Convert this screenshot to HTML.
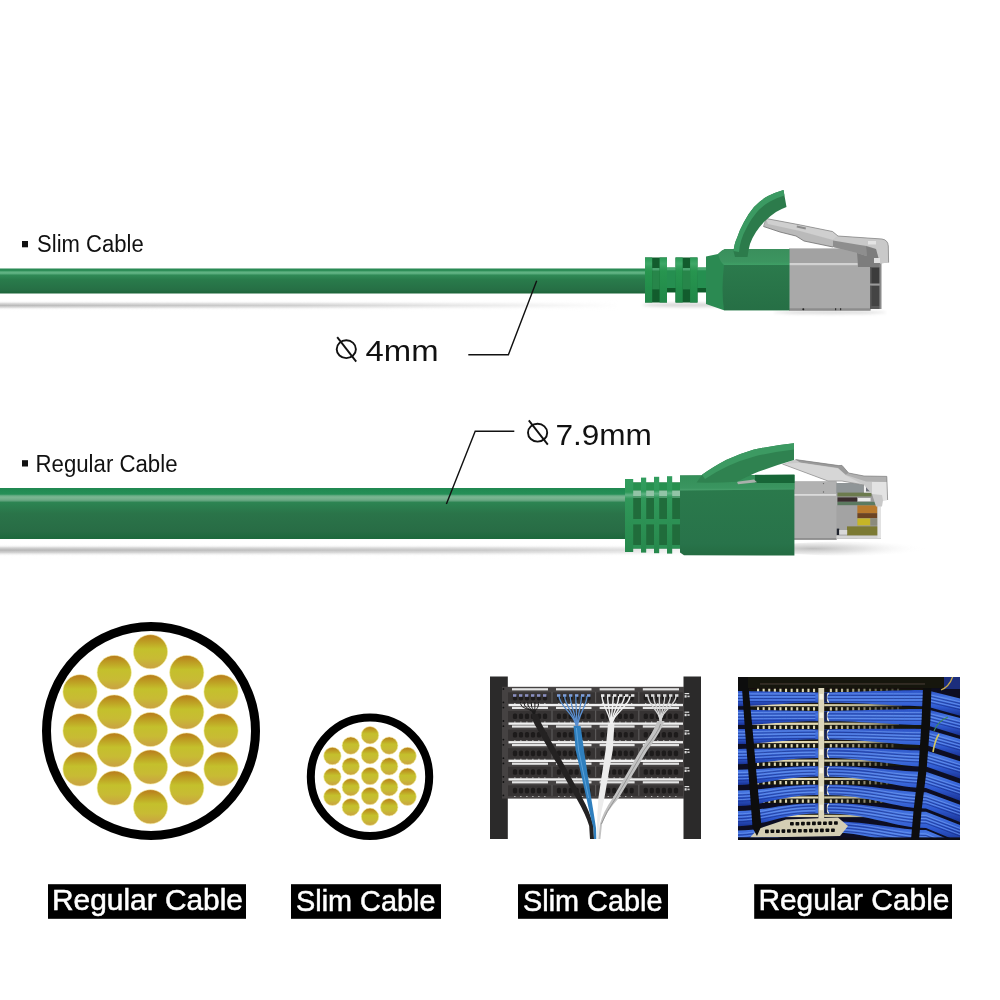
<!DOCTYPE html>
<html lang="en">
<head>
<meta charset="utf-8">
<title>Slim Cable vs Regular Cable</title>
<style>
html,body{margin:0;padding:0;background:#fff;}
body{width:1000px;height:1000px;position:relative;overflow:hidden;font-family:"Liberation Sans",sans-serif;}
svg{position:absolute;left:0;top:0;display:block;}
</style>
</head>
<body>
<svg width="1000" height="1000" viewBox="0 0 1000 1000" style="will-change:transform">
<defs>
<linearGradient id="gcs" x1="0" y1="0" x2="0" y2="1">
<stop offset="0" stop-color="#268650"/>
<stop offset="0.09" stop-color="#2f8f59"/>
<stop offset="0.14" stop-color="#62b585"/>
<stop offset="0.2" stop-color="#5aae7e"/>
<stop offset="0.27" stop-color="#2f8a56"/>
<stop offset="0.45" stop-color="#297b4b"/>
<stop offset="0.85" stop-color="#266f45"/>
<stop offset="1" stop-color="#1c6438"/>
</linearGradient>
<linearGradient id="gcr" x1="0" y1="0" x2="0" y2="1">
<stop offset="0" stop-color="#1f8850"/>
<stop offset="0.12" stop-color="#259058"/>
<stop offset="0.155" stop-color="#6fb08a"/>
<stop offset="0.19" stop-color="#7ab692"/>
<stop offset="0.24" stop-color="#6aa884"/>
<stop offset="0.285" stop-color="#2c8452"/>
<stop offset="0.5" stop-color="#2a7449"/>
<stop offset="0.85" stop-color="#286c45"/>
<stop offset="1" stop-color="#1d683c"/>
</linearGradient>
<linearGradient id="gs" x1="0" y1="0" x2="0" y2="1">
<stop offset="0" stop-color="#b97a1c"/>
<stop offset="0.18" stop-color="#bd9a22"/>
<stop offset="0.42" stop-color="#c4c02c"/>
<stop offset="0.7" stop-color="#c8bb34"/>
<stop offset="1" stop-color="#caa044"/>
</linearGradient>
<linearGradient id="gsh" x1="0" y1="0" x2="0" y2="1">
<stop offset="0" stop-color="#fff" stop-opacity="0"/>
<stop offset="0.3" stop-color="#cfcfcf" stop-opacity="0.8"/>
<stop offset="0.5" stop-color="#b8b8b8"/>
<stop offset="0.7" stop-color="#cfcfcf" stop-opacity="0.8"/>
<stop offset="1" stop-color="#fff" stop-opacity="0"/>
</linearGradient>
<linearGradient id="gblue" x1="0" y1="0" x2="0" y2="1">
<stop offset="0" stop-color="#2a50c4"/>
<stop offset="0.3" stop-color="#4676e2"/>
<stop offset="0.65" stop-color="#2f5ad0"/>
<stop offset="1" stop-color="#1a3294"/>
</linearGradient>
<linearGradient id="gcs2" x1="0" y1="0" x2="0" y2="1">
<stop offset="0" stop-color="#2a8752"/>
<stop offset="0.14" stop-color="#4aa772"/>
<stop offset="0.3" stop-color="#2f8c55"/>
<stop offset="0.8" stop-color="#26804a"/>
<stop offset="1" stop-color="#1a6a38"/>
</linearGradient>
<linearGradient id="grib" x1="0" y1="0" x2="0" y2="1">
<stop offset="0" stop-color="#2a9a56"/>
<stop offset="0.14" stop-color="#3fa868"/>
<stop offset="0.3" stop-color="#27954f"/>
<stop offset="1" stop-color="#208848"/>
</linearGradient>
<linearGradient id="gbodyS" x1="0" y1="0" x2="0" y2="1">
<stop offset="0" stop-color="#2b7a4c"/>
<stop offset="1" stop-color="#266f45"/>
</linearGradient>
<linearGradient id="gtopS" x1="0" y1="0" x2="0" y2="1">
<stop offset="0" stop-color="#3a8f5c"/>
<stop offset="0.8" stop-color="#3c9560"/>
<stop offset="1" stop-color="#3fa066"/>
</linearGradient>
<linearGradient id="gribR" x1="0" y1="0" x2="0" y2="1">
<stop offset="0" stop-color="#329d5e"/>
<stop offset="0.18" stop-color="#2f9a5a"/>
<stop offset="0.22" stop-color="#5fb384"/>
<stop offset="0.27" stop-color="#30985a"/>
<stop offset="1" stop-color="#26884c"/>
</linearGradient>
<linearGradient id="gbodyR" x1="0" y1="0" x2="0" y2="1">
<stop offset="0" stop-color="#2b7b4c"/>
<stop offset="0.85" stop-color="#28734a"/>
<stop offset="1" stop-color="#246c42"/>
</linearGradient>
<linearGradient id="gtopR" x1="0" y1="0" x2="0" y2="1">
<stop offset="0" stop-color="#348f58"/>
<stop offset="0.85" stop-color="#3a9560"/>
<stop offset="1" stop-color="#4aa26e"/>
</linearGradient>
<radialGradient id="gshR" cx="0.3" cy="0.5" r="0.7">
<stop offset="0" stop-color="#a8a8a8" stop-opacity="0.75"/>
<stop offset="0.45" stop-color="#c4c4c4" stop-opacity="0.45"/>
<stop offset="1" stop-color="#fff" stop-opacity="0"/>
</radialGradient>
<linearGradient id="gsh2" x1="0" y1="0" x2="0" y2="1">
<stop offset="0" stop-color="#fff" stop-opacity="0"/>
<stop offset="0.28" stop-color="#c8c8c8" stop-opacity="0.8"/>
<stop offset="0.48" stop-color="#b4b4b4"/>
<stop offset="0.7" stop-color="#cacaca" stop-opacity="0.8"/>
<stop offset="1" stop-color="#fff" stop-opacity="0"/>
</linearGradient>
<linearGradient id="gfadeS" x1="0" y1="0" x2="1" y2="0">
<stop offset="0" stop-color="#fff" stop-opacity="0"/>
<stop offset="0.45" stop-color="#fff" stop-opacity="0.3"/>
<stop offset="0.95" stop-color="#fff" stop-opacity="1"/>
</linearGradient>
<linearGradient id="gfadeR" x1="0" y1="0" x2="1" y2="0">
<stop offset="0" stop-color="#fff" stop-opacity="0"/>
<stop offset="0.7" stop-color="#fff" stop-opacity="0.25"/>
<stop offset="0.9" stop-color="#fff" stop-opacity="0.55"/>
<stop offset="1" stop-color="#fff" stop-opacity="0.9"/>
</linearGradient>
<linearGradient id="gstripR" x1="0" y1="0" x2="1" y2="0">
<stop offset="0" stop-color="#d6cfa6"/>
<stop offset="0.55" stop-color="#b9b28c"/>
<stop offset="1" stop-color="#4c4a3a"/>
</linearGradient>
<filter id="fblur" x="-5%" y="-5%" width="110%" height="110%"><feGaussianBlur stdDeviation="0.45"/></filter>
<filter id="fblur2" x="-20%" y="-300%" width="140%" height="700%"><feGaussianBlur stdDeviation="1.6"/></filter>
</defs>

<!-- ============ SLIM CABLE ============ -->
<g id="slim">
<rect x="0" y="300.6" width="650" height="9.6" fill="url(#gsh)"/>
<rect x="0" y="299" width="651" height="13" fill="url(#gfadeS)"/>
<rect x="0" y="268.5" width="646" height="25" fill="url(#gcs)"/>
<!-- cable into boot -->
<rect x="645" y="268" width="62" height="24.5" fill="url(#gcs2)"/>
<ellipse cx="690" cy="305" rx="48" ry="2.2" fill="#9c9c9c" opacity="0.4" filter="url(#fblur2)"/>
<ellipse cx="830" cy="312.4" rx="56" ry="1.8" fill="#9c9c9c" opacity="0.35" filter="url(#fblur2)"/>
<!-- ribs -->
<g>
<rect x="645" y="257.5" width="22" height="45" fill="#125c2d"/>
<rect x="652.2" y="270.4" width="7.4" height="19" fill="#27864a"/>
<rect x="652.2" y="268" width="7.4" height="2.6" fill="#4aa670"/>
<rect x="645" y="257.5" width="7.2" height="45" fill="url(#grib)"/>
<rect x="659.6" y="257.5" width="7.4" height="45" fill="url(#grib)"/>
<rect x="675.5" y="257.5" width="22" height="45" fill="#125c2d"/>
<rect x="682.7" y="270.4" width="7.4" height="19" fill="#27864a"/>
<rect x="682.7" y="268" width="7.4" height="2.6" fill="#4aa670"/>
<rect x="675.5" y="257.5" width="7.2" height="45" fill="url(#grib)"/>
<rect x="690.1" y="257.5" width="7.4" height="45" fill="url(#grib)"/>
<rect x="667" y="267.5" width="8.5" height="24.5" fill="#258f50"/>
<rect x="667" y="267.5" width="8.5" height="2.8" fill="#4aa870"/>
<rect x="667" y="288" width="8.5" height="4" fill="#0f5a2a"/>
<rect x="697.5" y="267.5" width="8.5" height="24.5" fill="#258f50"/>
<rect x="697.5" y="267.5" width="8.5" height="2.8" fill="#4aa870"/>
<rect x="697.5" y="288" width="8.5" height="4" fill="#0f5a2a"/>
</g>
<!-- gray metal shell -->
<rect x="789" y="248.6" width="81.5" height="62" fill="#a9a9a9"/>
<rect x="789" y="248.6" width="81.5" height="14.6" fill="#a2a2a2"/>
<rect x="789" y="263" width="81.5" height="2.2" fill="#d2d2d2"/>
<rect x="789" y="308.3" width="81.5" height="2.3" fill="#8c8c8c"/>
<circle cx="803.3" cy="309.3" r="1" fill="#222"/>
<rect x="835" y="308.2" width="1.2" height="2" fill="#333"/>
<rect x="840" y="308.2" width="1.2" height="2" fill="#333"/>
<!-- contacts -->
<rect x="870" y="262" width="11" height="47" fill="#5a5a5a"/>
<rect x="871.5" y="268" width="8" height="16" fill="#3c3c3c"/>
<rect x="871.5" y="286" width="8" height="20" fill="#444"/>
<rect x="870" y="283.5" width="11" height="2" fill="#9a9a9a"/>
<rect x="879.5" y="262" width="2" height="47" fill="#8a8a8a"/>
<!-- clear latch -->
<path d="M763.5,226.5 L766,218.5 L798,224.5 L832.5,231.5 L838,236 L882,239 Q888,240 888.3,246 L888.6,262.5 L880,263.5 L879.5,267 L858,267 L857,253 L833,247 L804,241 L796,236 L780,232 Z" fill="#b4b4b4" opacity="0.92"/>
<path d="M766,218.5 L798,224.5 L832.5,231.5 L838,236 L833,240 L800,231 L768,224 Z" fill="#cfcfcf"/>
<path d="M833,240 L838,236 L882,239 Q888,240 888.3,246 L888.6,262.5 L880,263.5 L876,249 L866,245.5 L834,247 Z" fill="#c9c9c9"/>
<path d="M833,240.5 L866,246 L866.5,256 L857,253 L833,247 Z" fill="#8e8e8e"/>
<path d="M866,246 L876,249 L880,263.5 L879.5,267 L858,267 L857,253 L866.5,256 Z" fill="#7d7d7d"/>
<rect x="868" y="241" width="8" height="3.5" fill="#e4e4e4"/>
<path d="M766,218.5 L798,224.5 L832.5,231.5 L838,236 L882,239 Q888,240 888.3,246 L888.6,262.5" fill="none" stroke="#7e7e7e" stroke-width="0.7"/>
<path d="M763.5,226.5 L780,232 L796,236 L804,241 L833,247" fill="none" stroke="#6f6f6f" stroke-width="0.8"/>
<path d="M763.5,226.5 L766,218.5" fill="none" stroke="#8a8a8a" stroke-width="0.7"/>
<path d="M797,225.6 l9,1.9 l-0.4,2 l-9,-1.9 Z" fill="#8c8c8c"/>
<rect x="874" y="258" width="6" height="5" fill="#e0e0e0"/>
<!-- body -->
<path d="M706,256.5 L718,254 Q722,250 725,249 L789.3,249 L789.3,310.3 L724,310.3 L706,304 Z" fill="#2b8a52"/>
<path d="M724,265 L789.3,265 L789.3,310.3 L724,310.3 Q721,290 724,265 Z" fill="url(#gbodyS)"/>
<path d="M725,249 L789.3,249 L789.3,265 L724,265 Q720,262 718,254 Q722,250 725,249 Z" fill="url(#gtopS)"/>
<!-- green latch -->
<path d="M733.5,251 Q734.5,243 737,238 Q740,229 744,222 Q748,214 754,207 Q760,200.5 768,196 Q775,192.5 783.5,190 L786.5,207 Q781,209 776,212 Q770,216 765,221 Q760,226 756,232 Q752,238 750,244 Q748.5,249 747.5,257 L735,257 Z" fill="#2c7b4b"/>
<path d="M733.5,251 Q734.5,243 737,238 Q740,229 744,222 Q748,214 754,207 Q760,200.5 768,196 Q775,192.5 783.5,190 L784.4,195.5 Q776,198 770,201.5 Q762,206 757,212 Q751,219 747.5,226 Q743,234 741,241 Q739.5,246 739,252 Z" fill="#3b9a62"/>
</g>

<!-- ============ REGULAR CABLE ============ -->
<g id="regular">
<rect x="0" y="544.4" width="690" height="12" fill="url(#gsh2)"/>
<rect x="0" y="543" width="691" height="16" fill="url(#gfadeR)"/>
<rect x="0" y="488" width="630" height="51" fill="url(#gcr)"/>
<!-- shadow under plug -->
<ellipse cx="845" cy="548.6" rx="80" ry="7" fill="url(#gshR)"/>
<!-- boot -->
<rect x="625" y="482.5" width="56" height="66" fill="#206c3b"/>
<rect x="625" y="482.5" width="56" height="8" fill="#27904f"/>
<rect x="625" y="490.5" width="56" height="5.5" fill="#92c4a6"/>
<rect x="625" y="496" width="56" height="2" fill="#4e9a6c"/>
<rect x="625" y="519" width="56" height="5.4" fill="#2c9154"/>
<rect x="625" y="545" width="56" height="3.5" fill="#2c9154"/>
<rect x="625" y="479" width="8.2" height="73" fill="url(#gribR)"/>
<rect x="641" y="477.6" width="5.2" height="75" fill="url(#gribR)"/>
<rect x="654" y="476.8" width="5.2" height="76.4" fill="url(#gribR)"/>
<rect x="667" y="476.2" width="5.2" height="77.4" fill="url(#gribR)"/>
<!-- gray metal shell -->
<rect x="794" y="481.4" width="42.6" height="58.4" fill="#adadad"/>
<rect x="794" y="481.4" width="42.6" height="12.6" fill="#b1b1b1"/>
<rect x="794" y="494" width="42.6" height="1.8" fill="#dadada"/>
<rect x="794" y="538" width="42.6" height="1.8" fill="#8f8f8f"/>
<circle cx="823.5" cy="483.6" r="0.7" fill="#666"/>
<circle cx="823.5" cy="492" r="0.7" fill="#666"/>
<!-- contacts block -->
<rect x="836.4" y="483" width="44.6" height="55.6" fill="#9c9c9c"/>
<rect x="836.4" y="483" width="27" height="10" fill="#8f9597"/>
<rect x="837.5" y="492.6" width="34" height="3.8" fill="#6c7b4e"/>
<rect x="837.5" y="497.4" width="19.5" height="4.4" fill="#3a2c2e"/>
<rect x="858" y="498" width="12.6" height="3.4" fill="#ececec"/>
<rect x="837.5" y="501.8" width="44.5" height="3.6" fill="#5c7a60"/>
<rect x="836.4" y="505.4" width="21" height="33" fill="#a3a3a3"/>
<rect x="857.4" y="505.4" width="20" height="8" fill="#b97a2c"/>
<rect x="857.4" y="513.2" width="20" height="5" fill="#6d4423"/>
<rect x="857.4" y="518.4" width="13" height="7" fill="#c7b626"/>
<rect x="870.4" y="518.4" width="9.6" height="7" fill="#8b8b7c"/>
<rect x="847" y="526.4" width="33" height="9.2" fill="#7c7a33"/>
<rect x="836.8" y="528.6" width="2.4" height="6.4" fill="#20242e"/>
<rect x="839.2" y="530" width="8" height="4.6" fill="#d9d9d9"/>
<rect x="836.4" y="535.6" width="44.6" height="3" fill="#d4d4d4"/>
<rect x="877.4" y="502" width="3.6" height="36" fill="#e2e2e2"/>
<rect x="864" y="484" width="8" height="8.6" fill="#f0f0f0"/>
<rect x="866" y="485.5" width="5" height="6" fill="#6d6f78"/>
<!-- clear latch -->
<path d="M782.4,464 L795.6,459.6 L838.8,465.6 L842,465.4 L848.6,473 L864,476 L886.8,476.4 L887.6,500 L883,500.4 L882,506.5 L876,506.5 L872,494 L864,485 L842,481 L828,481 Z" fill="#c9c9c9"/>
<path d="M795.6,459.6 L838.8,465.6 L842,465.4 L848.6,473 L846,475 L838,468 L800,462.6 Z" fill="#9a9a9a"/>
<path d="M848.6,473 L864,476 L886.8,476.4 L887,482 L866,481.5 L846,475 Z" fill="#b0b0b0"/>
<path d="M872,482 L886.9,482 L887.6,500 L883,500.4 L882,495 L872,494 Z" fill="#e3e3e3"/>
<path d="M782.4,464 L828,481 L842,481 L864,485 L846,475.5 L838,468.6 L800,462.8 Z" fill="#d6d6d6"/>
<path d="M795.6,459.6 L838.8,465.6 L842,465.4 L848.6,473 L864,476 L886.8,476.4 L887.6,500" fill="none" stroke="#808080" stroke-width="0.7"/>
<path d="M782.4,464 L828,481 L842,481 L864,485" fill="none" stroke="#8a8a8a" stroke-width="0.7"/>
<!-- body -->
<path d="M680,475.6 L794.4,474.8 L794.4,555.6 L684,555.2 L680,552.6 Z" fill="url(#gbodyR)"/>
<path d="M680,475.6 L794.4,474.8 L794.4,489.6 L680,490.4 Z" fill="url(#gtopR)"/>
<rect x="755" y="474.8" width="39.4" height="8.2" fill="#176637"/>
<path d="M737,481.8 L754,479.4 L757,482.2 L738,484.2 Z" fill="#a9b0ab"/>
<!-- green latch wedge -->
<path d="M696.6,482.6 L702,474.8 Q712,467.5 726,460 Q739,454 754,449.6 Q772,445.6 794,443.3 L794,460 Q772,466.4 754,473.4 Q744,478 737,481.8 Q716,483 696.6,482.6 Z" fill="#2f8250"/>
<path d="M702,474.8 Q712,467.5 726,460 Q739,454 754,449.6 Q772,445.6 794,443.3 L794,449.5 Q773,452 756,456 Q741,460 728,466 Q716,471.6 705,479 Z" fill="#3c9a62"/>
</g>

<!-- leader lines -->
<polyline points="536.7,280.8 508.4,354.7 468.3,354.7" fill="none" stroke="#111" stroke-width="1.4"/>
<polyline points="446.4,503.9 475.2,431.2 514.3,431.2" fill="none" stroke="#111" stroke-width="1.4"/>
<!-- diameter symbols -->
<g fill="none" stroke="#111" stroke-width="1.9">
<ellipse cx="346.3" cy="349.2" rx="9.6" ry="8.9"/>
<line x1="337.2" y1="337.2" x2="356.2" y2="361.6"/>
<ellipse cx="537.6" cy="432.7" rx="9.6" ry="8.9"/>
<line x1="528.8" y1="420.4" x2="547.8" y2="444.6"/>
</g>

<!-- ============ CROSS SECTIONS ============ -->
<circle cx="151" cy="731" r="104.5" fill="#fff" stroke="#000" stroke-width="9"/>
<circle cx="80" cy="691.75" r="17.1" fill="url(#gs)" stroke="#f3ec9a" stroke-width="0.6"/>
<circle cx="80" cy="730.75" r="17.1" fill="url(#gs)" stroke="#f3ec9a" stroke-width="0.6"/>
<circle cx="80" cy="769" r="17.1" fill="url(#gs)" stroke="#f3ec9a" stroke-width="0.6"/>
<circle cx="114.25" cy="672.5" r="17.1" fill="url(#gs)" stroke="#f3ec9a" stroke-width="0.6"/>
<circle cx="114.25" cy="712" r="17.1" fill="url(#gs)" stroke="#f3ec9a" stroke-width="0.6"/>
<circle cx="114.25" cy="750" r="17.1" fill="url(#gs)" stroke="#f3ec9a" stroke-width="0.6"/>
<circle cx="114.25" cy="788" r="17.1" fill="url(#gs)" stroke="#f3ec9a" stroke-width="0.6"/>
<circle cx="150.5" cy="651.75" r="17.1" fill="url(#gs)" stroke="#f3ec9a" stroke-width="0.6"/>
<circle cx="150.5" cy="691.75" r="17.1" fill="url(#gs)" stroke="#f3ec9a" stroke-width="0.6"/>
<circle cx="150.5" cy="729.5" r="17.1" fill="url(#gs)" stroke="#f3ec9a" stroke-width="0.6"/>
<circle cx="150.5" cy="767" r="17.1" fill="url(#gs)" stroke="#f3ec9a" stroke-width="0.6"/>
<circle cx="150.5" cy="806.75" r="17.1" fill="url(#gs)" stroke="#f3ec9a" stroke-width="0.6"/>
<circle cx="186.75" cy="672.5" r="17.1" fill="url(#gs)" stroke="#f3ec9a" stroke-width="0.6"/>
<circle cx="186.75" cy="712" r="17.1" fill="url(#gs)" stroke="#f3ec9a" stroke-width="0.6"/>
<circle cx="186.75" cy="750" r="17.1" fill="url(#gs)" stroke="#f3ec9a" stroke-width="0.6"/>
<circle cx="186.75" cy="788" r="17.1" fill="url(#gs)" stroke="#f3ec9a" stroke-width="0.6"/>
<circle cx="221" cy="691.75" r="17.1" fill="url(#gs)" stroke="#f3ec9a" stroke-width="0.6"/>
<circle cx="221" cy="730.75" r="17.1" fill="url(#gs)" stroke="#f3ec9a" stroke-width="0.6"/>
<circle cx="221" cy="769" r="17.1" fill="url(#gs)" stroke="#f3ec9a" stroke-width="0.6"/>
<circle cx="370" cy="776.8" r="59.2" fill="#fff" stroke="#000" stroke-width="8"/>
<circle cx="332.4" cy="756" r="8.7" fill="url(#gs)" stroke="#f3ec9a" stroke-width="0.6"/>
<circle cx="332.4" cy="776.8" r="8.7" fill="url(#gs)" stroke="#f3ec9a" stroke-width="0.6"/>
<circle cx="332.4" cy="796.8" r="8.7" fill="url(#gs)" stroke="#f3ec9a" stroke-width="0.6"/>
<circle cx="350.8" cy="745.6" r="8.7" fill="url(#gs)" stroke="#f3ec9a" stroke-width="0.6"/>
<circle cx="350.8" cy="766.4" r="8.7" fill="url(#gs)" stroke="#f3ec9a" stroke-width="0.6"/>
<circle cx="350.8" cy="787.2" r="8.7" fill="url(#gs)" stroke="#f3ec9a" stroke-width="0.6"/>
<circle cx="350.8" cy="807.2" r="8.7" fill="url(#gs)" stroke="#f3ec9a" stroke-width="0.6"/>
<circle cx="370" cy="735.2" r="8.7" fill="url(#gs)" stroke="#f3ec9a" stroke-width="0.6"/>
<circle cx="370" cy="755.2" r="8.7" fill="url(#gs)" stroke="#f3ec9a" stroke-width="0.6"/>
<circle cx="370" cy="776" r="8.7" fill="url(#gs)" stroke="#f3ec9a" stroke-width="0.6"/>
<circle cx="370" cy="796" r="8.7" fill="url(#gs)" stroke="#f3ec9a" stroke-width="0.6"/>
<circle cx="370" cy="816.8" r="8.7" fill="url(#gs)" stroke="#f3ec9a" stroke-width="0.6"/>
<circle cx="389.2" cy="745.6" r="8.7" fill="url(#gs)" stroke="#f3ec9a" stroke-width="0.6"/>
<circle cx="389.2" cy="766.4" r="8.7" fill="url(#gs)" stroke="#f3ec9a" stroke-width="0.6"/>
<circle cx="389.2" cy="787.2" r="8.7" fill="url(#gs)" stroke="#f3ec9a" stroke-width="0.6"/>
<circle cx="389.2" cy="807.2" r="8.7" fill="url(#gs)" stroke="#f3ec9a" stroke-width="0.6"/>
<circle cx="407.6" cy="756" r="8.7" fill="url(#gs)" stroke="#f3ec9a" stroke-width="0.6"/>
<circle cx="407.6" cy="776.8" r="8.7" fill="url(#gs)" stroke="#f3ec9a" stroke-width="0.6"/>
<circle cx="407.6" cy="796.8" r="8.7" fill="url(#gs)" stroke="#f3ec9a" stroke-width="0.6"/>

<!-- ============ RACK (slim) ============ -->
<g id="rack">
<rect x="490" y="676.5" width="17.8" height="162.5" fill="#2b2a2a"/>
<rect x="683.5" y="676.5" width="17.5" height="162.5" fill="#2b2a2a"/>
<rect x="502" y="686.8" width="182" height="111.8" fill="#454242"/>
<rect x="508" y="692.4" width="175" height="10.6" fill="#363333"/>
<rect x="512" y="688.2" width="36" height="2.2" fill="#e4e4e4"/>
<rect x="512.9" y="694.8" width="4.2" height="5.6" rx="1.6" fill="#1d1b1b"/>
<rect x="514.2" y="703.0" width="1.3" height="1" fill="#bdbdbd"/>
<rect x="518.9" y="694.8" width="4.2" height="5.6" rx="1.6" fill="#1d1b1b"/>
<rect x="520.2" y="703.0" width="1.3" height="1" fill="#bdbdbd"/>
<rect x="524.9" y="694.8" width="4.2" height="5.6" rx="1.6" fill="#1d1b1b"/>
<rect x="526.2" y="703.0" width="1.3" height="1" fill="#bdbdbd"/>
<rect x="530.9" y="694.8" width="4.2" height="5.6" rx="1.6" fill="#1d1b1b"/>
<rect x="532.2" y="703.0" width="1.3" height="1" fill="#bdbdbd"/>
<rect x="536.9" y="694.8" width="4.2" height="5.6" rx="1.6" fill="#1d1b1b"/>
<rect x="538.2" y="703.0" width="1.3" height="1" fill="#bdbdbd"/>
<rect x="542.9" y="694.8" width="4.2" height="5.6" rx="1.6" fill="#1d1b1b"/>
<rect x="544.2" y="703.0" width="1.3" height="1" fill="#bdbdbd"/>
<rect x="556" y="688.2" width="35.5" height="2.2" fill="#e4e4e4"/>
<rect x="556.9" y="694.8" width="4.1" height="5.6" rx="1.6" fill="#1d1b1b"/>
<rect x="558.2" y="703.0" width="1.3" height="1" fill="#bdbdbd"/>
<rect x="562.8" y="694.8" width="4.1" height="5.6" rx="1.6" fill="#1d1b1b"/>
<rect x="564.1" y="703.0" width="1.3" height="1" fill="#bdbdbd"/>
<rect x="568.7" y="694.8" width="4.1" height="5.6" rx="1.6" fill="#1d1b1b"/>
<rect x="570.0" y="703.0" width="1.3" height="1" fill="#bdbdbd"/>
<rect x="574.6" y="694.8" width="4.1" height="5.6" rx="1.6" fill="#1d1b1b"/>
<rect x="576.0" y="703.0" width="1.3" height="1" fill="#bdbdbd"/>
<rect x="580.6" y="694.8" width="4.1" height="5.6" rx="1.6" fill="#1d1b1b"/>
<rect x="581.9" y="703.0" width="1.3" height="1" fill="#bdbdbd"/>
<rect x="586.5" y="694.8" width="4.1" height="5.6" rx="1.6" fill="#1d1b1b"/>
<rect x="587.8" y="703.0" width="1.3" height="1" fill="#bdbdbd"/>
<rect x="599.6" y="688.2" width="35.0" height="2.2" fill="#e4e4e4"/>
<rect x="600.5" y="694.8" width="4.0" height="5.6" rx="1.6" fill="#1d1b1b"/>
<rect x="601.8" y="703.0" width="1.3" height="1" fill="#bdbdbd"/>
<rect x="606.3" y="694.8" width="4.0" height="5.6" rx="1.6" fill="#1d1b1b"/>
<rect x="607.6" y="703.0" width="1.3" height="1" fill="#bdbdbd"/>
<rect x="612.2" y="694.8" width="4.0" height="5.6" rx="1.6" fill="#1d1b1b"/>
<rect x="613.5" y="703.0" width="1.3" height="1" fill="#bdbdbd"/>
<rect x="618.0" y="694.8" width="4.0" height="5.6" rx="1.6" fill="#1d1b1b"/>
<rect x="619.3" y="703.0" width="1.3" height="1" fill="#bdbdbd"/>
<rect x="623.8" y="694.8" width="4.0" height="5.6" rx="1.6" fill="#1d1b1b"/>
<rect x="625.1" y="703.0" width="1.3" height="1" fill="#bdbdbd"/>
<rect x="629.7" y="694.8" width="4.0" height="5.6" rx="1.6" fill="#1d1b1b"/>
<rect x="631.0" y="703.0" width="1.3" height="1" fill="#bdbdbd"/>
<rect x="642.8" y="688.2" width="36.200000000000045" height="2.2" fill="#e4e4e4"/>
<rect x="643.7" y="694.8" width="4.2" height="5.6" rx="1.6" fill="#1d1b1b"/>
<rect x="645.0" y="703.0" width="1.3" height="1" fill="#bdbdbd"/>
<rect x="649.7" y="694.8" width="4.2" height="5.6" rx="1.6" fill="#1d1b1b"/>
<rect x="651.0" y="703.0" width="1.3" height="1" fill="#bdbdbd"/>
<rect x="655.8" y="694.8" width="4.2" height="5.6" rx="1.6" fill="#1d1b1b"/>
<rect x="657.1" y="703.0" width="1.3" height="1" fill="#bdbdbd"/>
<rect x="661.8" y="694.8" width="4.2" height="5.6" rx="1.6" fill="#1d1b1b"/>
<rect x="663.1" y="703.0" width="1.3" height="1" fill="#bdbdbd"/>
<rect x="667.8" y="694.8" width="4.2" height="5.6" rx="1.6" fill="#1d1b1b"/>
<rect x="669.1" y="703.0" width="1.3" height="1" fill="#bdbdbd"/>
<rect x="673.9" y="694.8" width="4.2" height="5.6" rx="1.6" fill="#1d1b1b"/>
<rect x="675.2" y="703.0" width="1.3" height="1" fill="#bdbdbd"/>
<rect x="551.4" y="691.8" width="1.2" height="11" fill="#5a5858"/>
<rect x="595.0" y="691.8" width="1.2" height="11" fill="#5a5858"/>
<rect x="638.1999999999999" y="691.8" width="1.2" height="11" fill="#5a5858"/>
<rect x="684.6" y="693.0" width="4.6" height="1.2" fill="#e0e0e0"/>
<rect x="684.6" y="695.2" width="2" height="2.4" fill="#e0e0e0"/>
<rect x="687.4" y="695.6" width="2.2" height="1.6" fill="#d0d0d0"/>
<circle cx="503.4" cy="689.0" r="0.9" fill="#111"/>
<circle cx="503.4" cy="702.4" r="0.9" fill="#111"/>
<rect x="508" y="711.0" width="175" height="10.6" fill="#363333"/>
<rect x="512" y="706.8" width="36" height="2.2" fill="#e4e4e4"/>
<rect x="512.9" y="713.4" width="4.2" height="5.6" rx="1.6" fill="#1d1b1b"/>
<rect x="514.2" y="721.6" width="1.3" height="1" fill="#bdbdbd"/>
<rect x="518.9" y="713.4" width="4.2" height="5.6" rx="1.6" fill="#1d1b1b"/>
<rect x="520.2" y="721.6" width="1.3" height="1" fill="#bdbdbd"/>
<rect x="524.9" y="713.4" width="4.2" height="5.6" rx="1.6" fill="#1d1b1b"/>
<rect x="526.2" y="721.6" width="1.3" height="1" fill="#bdbdbd"/>
<rect x="530.9" y="713.4" width="4.2" height="5.6" rx="1.6" fill="#1d1b1b"/>
<rect x="532.2" y="721.6" width="1.3" height="1" fill="#bdbdbd"/>
<rect x="536.9" y="713.4" width="4.2" height="5.6" rx="1.6" fill="#1d1b1b"/>
<rect x="538.2" y="721.6" width="1.3" height="1" fill="#bdbdbd"/>
<rect x="542.9" y="713.4" width="4.2" height="5.6" rx="1.6" fill="#1d1b1b"/>
<rect x="544.2" y="721.6" width="1.3" height="1" fill="#bdbdbd"/>
<rect x="556" y="706.8" width="35.5" height="2.2" fill="#e4e4e4"/>
<rect x="556.9" y="713.4" width="4.1" height="5.6" rx="1.6" fill="#1d1b1b"/>
<rect x="558.2" y="721.6" width="1.3" height="1" fill="#bdbdbd"/>
<rect x="562.8" y="713.4" width="4.1" height="5.6" rx="1.6" fill="#1d1b1b"/>
<rect x="564.1" y="721.6" width="1.3" height="1" fill="#bdbdbd"/>
<rect x="568.7" y="713.4" width="4.1" height="5.6" rx="1.6" fill="#1d1b1b"/>
<rect x="570.0" y="721.6" width="1.3" height="1" fill="#bdbdbd"/>
<rect x="574.6" y="713.4" width="4.1" height="5.6" rx="1.6" fill="#1d1b1b"/>
<rect x="576.0" y="721.6" width="1.3" height="1" fill="#bdbdbd"/>
<rect x="580.6" y="713.4" width="4.1" height="5.6" rx="1.6" fill="#1d1b1b"/>
<rect x="581.9" y="721.6" width="1.3" height="1" fill="#bdbdbd"/>
<rect x="586.5" y="713.4" width="4.1" height="5.6" rx="1.6" fill="#1d1b1b"/>
<rect x="587.8" y="721.6" width="1.3" height="1" fill="#bdbdbd"/>
<rect x="599.6" y="706.8" width="35.0" height="2.2" fill="#e4e4e4"/>
<rect x="600.5" y="713.4" width="4.0" height="5.6" rx="1.6" fill="#1d1b1b"/>
<rect x="601.8" y="721.6" width="1.3" height="1" fill="#bdbdbd"/>
<rect x="606.3" y="713.4" width="4.0" height="5.6" rx="1.6" fill="#1d1b1b"/>
<rect x="607.6" y="721.6" width="1.3" height="1" fill="#bdbdbd"/>
<rect x="612.2" y="713.4" width="4.0" height="5.6" rx="1.6" fill="#1d1b1b"/>
<rect x="613.5" y="721.6" width="1.3" height="1" fill="#bdbdbd"/>
<rect x="618.0" y="713.4" width="4.0" height="5.6" rx="1.6" fill="#1d1b1b"/>
<rect x="619.3" y="721.6" width="1.3" height="1" fill="#bdbdbd"/>
<rect x="623.8" y="713.4" width="4.0" height="5.6" rx="1.6" fill="#1d1b1b"/>
<rect x="625.1" y="721.6" width="1.3" height="1" fill="#bdbdbd"/>
<rect x="629.7" y="713.4" width="4.0" height="5.6" rx="1.6" fill="#1d1b1b"/>
<rect x="631.0" y="721.6" width="1.3" height="1" fill="#bdbdbd"/>
<rect x="642.8" y="706.8" width="36.200000000000045" height="2.2" fill="#e4e4e4"/>
<rect x="643.7" y="713.4" width="4.2" height="5.6" rx="1.6" fill="#1d1b1b"/>
<rect x="645.0" y="721.6" width="1.3" height="1" fill="#bdbdbd"/>
<rect x="649.7" y="713.4" width="4.2" height="5.6" rx="1.6" fill="#1d1b1b"/>
<rect x="651.0" y="721.6" width="1.3" height="1" fill="#bdbdbd"/>
<rect x="655.8" y="713.4" width="4.2" height="5.6" rx="1.6" fill="#1d1b1b"/>
<rect x="657.1" y="721.6" width="1.3" height="1" fill="#bdbdbd"/>
<rect x="661.8" y="713.4" width="4.2" height="5.6" rx="1.6" fill="#1d1b1b"/>
<rect x="663.1" y="721.6" width="1.3" height="1" fill="#bdbdbd"/>
<rect x="667.8" y="713.4" width="4.2" height="5.6" rx="1.6" fill="#1d1b1b"/>
<rect x="669.1" y="721.6" width="1.3" height="1" fill="#bdbdbd"/>
<rect x="673.9" y="713.4" width="4.2" height="5.6" rx="1.6" fill="#1d1b1b"/>
<rect x="675.2" y="721.6" width="1.3" height="1" fill="#bdbdbd"/>
<rect x="551.4" y="710.4" width="1.2" height="11" fill="#5a5858"/>
<rect x="595.0" y="710.4" width="1.2" height="11" fill="#5a5858"/>
<rect x="638.1999999999999" y="710.4" width="1.2" height="11" fill="#5a5858"/>
<rect x="508.5" y="703.9" width="174.5" height="2.3" fill="#f0f0f0"/>
<rect x="684.6" y="711.6" width="4.6" height="1.2" fill="#e0e0e0"/>
<rect x="684.6" y="713.8" width="2" height="2.4" fill="#e0e0e0"/>
<rect x="687.4" y="714.2" width="2.2" height="1.6" fill="#d0d0d0"/>
<circle cx="503.4" cy="707.6" r="0.9" fill="#111"/>
<circle cx="503.4" cy="721.0" r="0.9" fill="#111"/>
<rect x="508" y="729.6" width="175" height="10.6" fill="#363333"/>
<rect x="512" y="725.4" width="36" height="2.2" fill="#e4e4e4"/>
<rect x="512.9" y="732.0" width="4.2" height="5.6" rx="1.6" fill="#1d1b1b"/>
<rect x="514.2" y="740.2" width="1.3" height="1" fill="#bdbdbd"/>
<rect x="518.9" y="732.0" width="4.2" height="5.6" rx="1.6" fill="#1d1b1b"/>
<rect x="520.2" y="740.2" width="1.3" height="1" fill="#bdbdbd"/>
<rect x="524.9" y="732.0" width="4.2" height="5.6" rx="1.6" fill="#1d1b1b"/>
<rect x="526.2" y="740.2" width="1.3" height="1" fill="#bdbdbd"/>
<rect x="530.9" y="732.0" width="4.2" height="5.6" rx="1.6" fill="#1d1b1b"/>
<rect x="532.2" y="740.2" width="1.3" height="1" fill="#bdbdbd"/>
<rect x="536.9" y="732.0" width="4.2" height="5.6" rx="1.6" fill="#1d1b1b"/>
<rect x="538.2" y="740.2" width="1.3" height="1" fill="#bdbdbd"/>
<rect x="542.9" y="732.0" width="4.2" height="5.6" rx="1.6" fill="#1d1b1b"/>
<rect x="544.2" y="740.2" width="1.3" height="1" fill="#bdbdbd"/>
<rect x="556" y="725.4" width="35.5" height="2.2" fill="#e4e4e4"/>
<rect x="556.9" y="732.0" width="4.1" height="5.6" rx="1.6" fill="#1d1b1b"/>
<rect x="558.2" y="740.2" width="1.3" height="1" fill="#bdbdbd"/>
<rect x="562.8" y="732.0" width="4.1" height="5.6" rx="1.6" fill="#1d1b1b"/>
<rect x="564.1" y="740.2" width="1.3" height="1" fill="#bdbdbd"/>
<rect x="568.7" y="732.0" width="4.1" height="5.6" rx="1.6" fill="#1d1b1b"/>
<rect x="570.0" y="740.2" width="1.3" height="1" fill="#bdbdbd"/>
<rect x="574.6" y="732.0" width="4.1" height="5.6" rx="1.6" fill="#1d1b1b"/>
<rect x="576.0" y="740.2" width="1.3" height="1" fill="#bdbdbd"/>
<rect x="580.6" y="732.0" width="4.1" height="5.6" rx="1.6" fill="#1d1b1b"/>
<rect x="581.9" y="740.2" width="1.3" height="1" fill="#bdbdbd"/>
<rect x="586.5" y="732.0" width="4.1" height="5.6" rx="1.6" fill="#1d1b1b"/>
<rect x="587.8" y="740.2" width="1.3" height="1" fill="#bdbdbd"/>
<rect x="599.6" y="725.4" width="35.0" height="2.2" fill="#e4e4e4"/>
<rect x="600.5" y="732.0" width="4.0" height="5.6" rx="1.6" fill="#1d1b1b"/>
<rect x="601.8" y="740.2" width="1.3" height="1" fill="#bdbdbd"/>
<rect x="606.3" y="732.0" width="4.0" height="5.6" rx="1.6" fill="#1d1b1b"/>
<rect x="607.6" y="740.2" width="1.3" height="1" fill="#bdbdbd"/>
<rect x="612.2" y="732.0" width="4.0" height="5.6" rx="1.6" fill="#1d1b1b"/>
<rect x="613.5" y="740.2" width="1.3" height="1" fill="#bdbdbd"/>
<rect x="618.0" y="732.0" width="4.0" height="5.6" rx="1.6" fill="#1d1b1b"/>
<rect x="619.3" y="740.2" width="1.3" height="1" fill="#bdbdbd"/>
<rect x="623.8" y="732.0" width="4.0" height="5.6" rx="1.6" fill="#1d1b1b"/>
<rect x="625.1" y="740.2" width="1.3" height="1" fill="#bdbdbd"/>
<rect x="629.7" y="732.0" width="4.0" height="5.6" rx="1.6" fill="#1d1b1b"/>
<rect x="631.0" y="740.2" width="1.3" height="1" fill="#bdbdbd"/>
<rect x="642.8" y="725.4" width="36.200000000000045" height="2.2" fill="#e4e4e4"/>
<rect x="643.7" y="732.0" width="4.2" height="5.6" rx="1.6" fill="#1d1b1b"/>
<rect x="645.0" y="740.2" width="1.3" height="1" fill="#bdbdbd"/>
<rect x="649.7" y="732.0" width="4.2" height="5.6" rx="1.6" fill="#1d1b1b"/>
<rect x="651.0" y="740.2" width="1.3" height="1" fill="#bdbdbd"/>
<rect x="655.8" y="732.0" width="4.2" height="5.6" rx="1.6" fill="#1d1b1b"/>
<rect x="657.1" y="740.2" width="1.3" height="1" fill="#bdbdbd"/>
<rect x="661.8" y="732.0" width="4.2" height="5.6" rx="1.6" fill="#1d1b1b"/>
<rect x="663.1" y="740.2" width="1.3" height="1" fill="#bdbdbd"/>
<rect x="667.8" y="732.0" width="4.2" height="5.6" rx="1.6" fill="#1d1b1b"/>
<rect x="669.1" y="740.2" width="1.3" height="1" fill="#bdbdbd"/>
<rect x="673.9" y="732.0" width="4.2" height="5.6" rx="1.6" fill="#1d1b1b"/>
<rect x="675.2" y="740.2" width="1.3" height="1" fill="#bdbdbd"/>
<rect x="551.4" y="729.0" width="1.2" height="11" fill="#5a5858"/>
<rect x="595.0" y="729.0" width="1.2" height="11" fill="#5a5858"/>
<rect x="638.1999999999999" y="729.0" width="1.2" height="11" fill="#5a5858"/>
<rect x="508.5" y="722.5" width="174.5" height="2.3" fill="#f0f0f0"/>
<rect x="684.6" y="730.2" width="4.6" height="1.2" fill="#e0e0e0"/>
<rect x="684.6" y="732.4" width="2" height="2.4" fill="#e0e0e0"/>
<rect x="687.4" y="732.8" width="2.2" height="1.6" fill="#d0d0d0"/>
<circle cx="503.4" cy="726.2" r="0.9" fill="#111"/>
<circle cx="503.4" cy="739.6" r="0.9" fill="#111"/>
<rect x="508" y="748.2" width="175" height="10.6" fill="#363333"/>
<rect x="512" y="744.0" width="36" height="2.2" fill="#e4e4e4"/>
<rect x="512.9" y="750.6" width="4.2" height="5.6" rx="1.6" fill="#1d1b1b"/>
<rect x="514.2" y="758.8" width="1.3" height="1" fill="#bdbdbd"/>
<rect x="518.9" y="750.6" width="4.2" height="5.6" rx="1.6" fill="#1d1b1b"/>
<rect x="520.2" y="758.8" width="1.3" height="1" fill="#bdbdbd"/>
<rect x="524.9" y="750.6" width="4.2" height="5.6" rx="1.6" fill="#1d1b1b"/>
<rect x="526.2" y="758.8" width="1.3" height="1" fill="#bdbdbd"/>
<rect x="530.9" y="750.6" width="4.2" height="5.6" rx="1.6" fill="#1d1b1b"/>
<rect x="532.2" y="758.8" width="1.3" height="1" fill="#bdbdbd"/>
<rect x="536.9" y="750.6" width="4.2" height="5.6" rx="1.6" fill="#1d1b1b"/>
<rect x="538.2" y="758.8" width="1.3" height="1" fill="#bdbdbd"/>
<rect x="542.9" y="750.6" width="4.2" height="5.6" rx="1.6" fill="#1d1b1b"/>
<rect x="544.2" y="758.8" width="1.3" height="1" fill="#bdbdbd"/>
<rect x="556" y="744.0" width="35.5" height="2.2" fill="#e4e4e4"/>
<rect x="556.9" y="750.6" width="4.1" height="5.6" rx="1.6" fill="#1d1b1b"/>
<rect x="558.2" y="758.8" width="1.3" height="1" fill="#bdbdbd"/>
<rect x="562.8" y="750.6" width="4.1" height="5.6" rx="1.6" fill="#1d1b1b"/>
<rect x="564.1" y="758.8" width="1.3" height="1" fill="#bdbdbd"/>
<rect x="568.7" y="750.6" width="4.1" height="5.6" rx="1.6" fill="#1d1b1b"/>
<rect x="570.0" y="758.8" width="1.3" height="1" fill="#bdbdbd"/>
<rect x="574.6" y="750.6" width="4.1" height="5.6" rx="1.6" fill="#1d1b1b"/>
<rect x="576.0" y="758.8" width="1.3" height="1" fill="#bdbdbd"/>
<rect x="580.6" y="750.6" width="4.1" height="5.6" rx="1.6" fill="#1d1b1b"/>
<rect x="581.9" y="758.8" width="1.3" height="1" fill="#bdbdbd"/>
<rect x="586.5" y="750.6" width="4.1" height="5.6" rx="1.6" fill="#1d1b1b"/>
<rect x="587.8" y="758.8" width="1.3" height="1" fill="#bdbdbd"/>
<rect x="599.6" y="744.0" width="35.0" height="2.2" fill="#e4e4e4"/>
<rect x="600.5" y="750.6" width="4.0" height="5.6" rx="1.6" fill="#1d1b1b"/>
<rect x="601.8" y="758.8" width="1.3" height="1" fill="#bdbdbd"/>
<rect x="606.3" y="750.6" width="4.0" height="5.6" rx="1.6" fill="#1d1b1b"/>
<rect x="607.6" y="758.8" width="1.3" height="1" fill="#bdbdbd"/>
<rect x="612.2" y="750.6" width="4.0" height="5.6" rx="1.6" fill="#1d1b1b"/>
<rect x="613.5" y="758.8" width="1.3" height="1" fill="#bdbdbd"/>
<rect x="618.0" y="750.6" width="4.0" height="5.6" rx="1.6" fill="#1d1b1b"/>
<rect x="619.3" y="758.8" width="1.3" height="1" fill="#bdbdbd"/>
<rect x="623.8" y="750.6" width="4.0" height="5.6" rx="1.6" fill="#1d1b1b"/>
<rect x="625.1" y="758.8" width="1.3" height="1" fill="#bdbdbd"/>
<rect x="629.7" y="750.6" width="4.0" height="5.6" rx="1.6" fill="#1d1b1b"/>
<rect x="631.0" y="758.8" width="1.3" height="1" fill="#bdbdbd"/>
<rect x="642.8" y="744.0" width="36.200000000000045" height="2.2" fill="#e4e4e4"/>
<rect x="643.7" y="750.6" width="4.2" height="5.6" rx="1.6" fill="#1d1b1b"/>
<rect x="645.0" y="758.8" width="1.3" height="1" fill="#bdbdbd"/>
<rect x="649.7" y="750.6" width="4.2" height="5.6" rx="1.6" fill="#1d1b1b"/>
<rect x="651.0" y="758.8" width="1.3" height="1" fill="#bdbdbd"/>
<rect x="655.8" y="750.6" width="4.2" height="5.6" rx="1.6" fill="#1d1b1b"/>
<rect x="657.1" y="758.8" width="1.3" height="1" fill="#bdbdbd"/>
<rect x="661.8" y="750.6" width="4.2" height="5.6" rx="1.6" fill="#1d1b1b"/>
<rect x="663.1" y="758.8" width="1.3" height="1" fill="#bdbdbd"/>
<rect x="667.8" y="750.6" width="4.2" height="5.6" rx="1.6" fill="#1d1b1b"/>
<rect x="669.1" y="758.8" width="1.3" height="1" fill="#bdbdbd"/>
<rect x="673.9" y="750.6" width="4.2" height="5.6" rx="1.6" fill="#1d1b1b"/>
<rect x="675.2" y="758.8" width="1.3" height="1" fill="#bdbdbd"/>
<rect x="551.4" y="747.6" width="1.2" height="11" fill="#5a5858"/>
<rect x="595.0" y="747.6" width="1.2" height="11" fill="#5a5858"/>
<rect x="638.1999999999999" y="747.6" width="1.2" height="11" fill="#5a5858"/>
<rect x="508.5" y="741.1" width="174.5" height="2.3" fill="#f0f0f0"/>
<rect x="684.6" y="748.8" width="4.6" height="1.2" fill="#e0e0e0"/>
<rect x="684.6" y="751.0" width="2" height="2.4" fill="#e0e0e0"/>
<rect x="687.4" y="751.4" width="2.2" height="1.6" fill="#d0d0d0"/>
<circle cx="503.4" cy="744.8" r="0.9" fill="#111"/>
<circle cx="503.4" cy="758.2" r="0.9" fill="#111"/>
<rect x="508" y="766.8" width="175" height="10.6" fill="#363333"/>
<rect x="512" y="762.6" width="36" height="2.2" fill="#e4e4e4"/>
<rect x="512.9" y="769.2" width="4.2" height="5.6" rx="1.6" fill="#1d1b1b"/>
<rect x="514.2" y="777.4" width="1.3" height="1" fill="#bdbdbd"/>
<rect x="518.9" y="769.2" width="4.2" height="5.6" rx="1.6" fill="#1d1b1b"/>
<rect x="520.2" y="777.4" width="1.3" height="1" fill="#bdbdbd"/>
<rect x="524.9" y="769.2" width="4.2" height="5.6" rx="1.6" fill="#1d1b1b"/>
<rect x="526.2" y="777.4" width="1.3" height="1" fill="#bdbdbd"/>
<rect x="530.9" y="769.2" width="4.2" height="5.6" rx="1.6" fill="#1d1b1b"/>
<rect x="532.2" y="777.4" width="1.3" height="1" fill="#bdbdbd"/>
<rect x="536.9" y="769.2" width="4.2" height="5.6" rx="1.6" fill="#1d1b1b"/>
<rect x="538.2" y="777.4" width="1.3" height="1" fill="#bdbdbd"/>
<rect x="542.9" y="769.2" width="4.2" height="5.6" rx="1.6" fill="#1d1b1b"/>
<rect x="544.2" y="777.4" width="1.3" height="1" fill="#bdbdbd"/>
<rect x="556" y="762.6" width="35.5" height="2.2" fill="#e4e4e4"/>
<rect x="556.9" y="769.2" width="4.1" height="5.6" rx="1.6" fill="#1d1b1b"/>
<rect x="558.2" y="777.4" width="1.3" height="1" fill="#bdbdbd"/>
<rect x="562.8" y="769.2" width="4.1" height="5.6" rx="1.6" fill="#1d1b1b"/>
<rect x="564.1" y="777.4" width="1.3" height="1" fill="#bdbdbd"/>
<rect x="568.7" y="769.2" width="4.1" height="5.6" rx="1.6" fill="#1d1b1b"/>
<rect x="570.0" y="777.4" width="1.3" height="1" fill="#bdbdbd"/>
<rect x="574.6" y="769.2" width="4.1" height="5.6" rx="1.6" fill="#1d1b1b"/>
<rect x="576.0" y="777.4" width="1.3" height="1" fill="#bdbdbd"/>
<rect x="580.6" y="769.2" width="4.1" height="5.6" rx="1.6" fill="#1d1b1b"/>
<rect x="581.9" y="777.4" width="1.3" height="1" fill="#bdbdbd"/>
<rect x="586.5" y="769.2" width="4.1" height="5.6" rx="1.6" fill="#1d1b1b"/>
<rect x="587.8" y="777.4" width="1.3" height="1" fill="#bdbdbd"/>
<rect x="599.6" y="762.6" width="35.0" height="2.2" fill="#e4e4e4"/>
<rect x="600.5" y="769.2" width="4.0" height="5.6" rx="1.6" fill="#1d1b1b"/>
<rect x="601.8" y="777.4" width="1.3" height="1" fill="#bdbdbd"/>
<rect x="606.3" y="769.2" width="4.0" height="5.6" rx="1.6" fill="#1d1b1b"/>
<rect x="607.6" y="777.4" width="1.3" height="1" fill="#bdbdbd"/>
<rect x="612.2" y="769.2" width="4.0" height="5.6" rx="1.6" fill="#1d1b1b"/>
<rect x="613.5" y="777.4" width="1.3" height="1" fill="#bdbdbd"/>
<rect x="618.0" y="769.2" width="4.0" height="5.6" rx="1.6" fill="#1d1b1b"/>
<rect x="619.3" y="777.4" width="1.3" height="1" fill="#bdbdbd"/>
<rect x="623.8" y="769.2" width="4.0" height="5.6" rx="1.6" fill="#1d1b1b"/>
<rect x="625.1" y="777.4" width="1.3" height="1" fill="#bdbdbd"/>
<rect x="629.7" y="769.2" width="4.0" height="5.6" rx="1.6" fill="#1d1b1b"/>
<rect x="631.0" y="777.4" width="1.3" height="1" fill="#bdbdbd"/>
<rect x="642.8" y="762.6" width="36.200000000000045" height="2.2" fill="#e4e4e4"/>
<rect x="643.7" y="769.2" width="4.2" height="5.6" rx="1.6" fill="#1d1b1b"/>
<rect x="645.0" y="777.4" width="1.3" height="1" fill="#bdbdbd"/>
<rect x="649.7" y="769.2" width="4.2" height="5.6" rx="1.6" fill="#1d1b1b"/>
<rect x="651.0" y="777.4" width="1.3" height="1" fill="#bdbdbd"/>
<rect x="655.8" y="769.2" width="4.2" height="5.6" rx="1.6" fill="#1d1b1b"/>
<rect x="657.1" y="777.4" width="1.3" height="1" fill="#bdbdbd"/>
<rect x="661.8" y="769.2" width="4.2" height="5.6" rx="1.6" fill="#1d1b1b"/>
<rect x="663.1" y="777.4" width="1.3" height="1" fill="#bdbdbd"/>
<rect x="667.8" y="769.2" width="4.2" height="5.6" rx="1.6" fill="#1d1b1b"/>
<rect x="669.1" y="777.4" width="1.3" height="1" fill="#bdbdbd"/>
<rect x="673.9" y="769.2" width="4.2" height="5.6" rx="1.6" fill="#1d1b1b"/>
<rect x="675.2" y="777.4" width="1.3" height="1" fill="#bdbdbd"/>
<rect x="551.4" y="766.2" width="1.2" height="11" fill="#5a5858"/>
<rect x="595.0" y="766.2" width="1.2" height="11" fill="#5a5858"/>
<rect x="638.1999999999999" y="766.2" width="1.2" height="11" fill="#5a5858"/>
<rect x="508.5" y="759.7" width="174.5" height="2.3" fill="#f0f0f0"/>
<rect x="684.6" y="767.4" width="4.6" height="1.2" fill="#e0e0e0"/>
<rect x="684.6" y="769.6" width="2" height="2.4" fill="#e0e0e0"/>
<rect x="687.4" y="770.0" width="2.2" height="1.6" fill="#d0d0d0"/>
<circle cx="503.4" cy="763.4" r="0.9" fill="#111"/>
<circle cx="503.4" cy="776.8" r="0.9" fill="#111"/>
<rect x="508" y="785.4" width="175" height="10.6" fill="#363333"/>
<rect x="512" y="781.2" width="36" height="2.2" fill="#e4e4e4"/>
<rect x="512.9" y="787.8" width="4.2" height="5.6" rx="1.6" fill="#1d1b1b"/>
<rect x="514.2" y="796.0" width="1.3" height="1" fill="#bdbdbd"/>
<rect x="518.9" y="787.8" width="4.2" height="5.6" rx="1.6" fill="#1d1b1b"/>
<rect x="520.2" y="796.0" width="1.3" height="1" fill="#bdbdbd"/>
<rect x="524.9" y="787.8" width="4.2" height="5.6" rx="1.6" fill="#1d1b1b"/>
<rect x="526.2" y="796.0" width="1.3" height="1" fill="#bdbdbd"/>
<rect x="530.9" y="787.8" width="4.2" height="5.6" rx="1.6" fill="#1d1b1b"/>
<rect x="532.2" y="796.0" width="1.3" height="1" fill="#bdbdbd"/>
<rect x="536.9" y="787.8" width="4.2" height="5.6" rx="1.6" fill="#1d1b1b"/>
<rect x="538.2" y="796.0" width="1.3" height="1" fill="#bdbdbd"/>
<rect x="542.9" y="787.8" width="4.2" height="5.6" rx="1.6" fill="#1d1b1b"/>
<rect x="544.2" y="796.0" width="1.3" height="1" fill="#bdbdbd"/>
<rect x="556" y="781.2" width="35.5" height="2.2" fill="#e4e4e4"/>
<rect x="556.9" y="787.8" width="4.1" height="5.6" rx="1.6" fill="#1d1b1b"/>
<rect x="558.2" y="796.0" width="1.3" height="1" fill="#bdbdbd"/>
<rect x="562.8" y="787.8" width="4.1" height="5.6" rx="1.6" fill="#1d1b1b"/>
<rect x="564.1" y="796.0" width="1.3" height="1" fill="#bdbdbd"/>
<rect x="568.7" y="787.8" width="4.1" height="5.6" rx="1.6" fill="#1d1b1b"/>
<rect x="570.0" y="796.0" width="1.3" height="1" fill="#bdbdbd"/>
<rect x="574.6" y="787.8" width="4.1" height="5.6" rx="1.6" fill="#1d1b1b"/>
<rect x="576.0" y="796.0" width="1.3" height="1" fill="#bdbdbd"/>
<rect x="580.6" y="787.8" width="4.1" height="5.6" rx="1.6" fill="#1d1b1b"/>
<rect x="581.9" y="796.0" width="1.3" height="1" fill="#bdbdbd"/>
<rect x="586.5" y="787.8" width="4.1" height="5.6" rx="1.6" fill="#1d1b1b"/>
<rect x="587.8" y="796.0" width="1.3" height="1" fill="#bdbdbd"/>
<rect x="599.6" y="781.2" width="35.0" height="2.2" fill="#e4e4e4"/>
<rect x="600.5" y="787.8" width="4.0" height="5.6" rx="1.6" fill="#1d1b1b"/>
<rect x="601.8" y="796.0" width="1.3" height="1" fill="#bdbdbd"/>
<rect x="606.3" y="787.8" width="4.0" height="5.6" rx="1.6" fill="#1d1b1b"/>
<rect x="607.6" y="796.0" width="1.3" height="1" fill="#bdbdbd"/>
<rect x="612.2" y="787.8" width="4.0" height="5.6" rx="1.6" fill="#1d1b1b"/>
<rect x="613.5" y="796.0" width="1.3" height="1" fill="#bdbdbd"/>
<rect x="618.0" y="787.8" width="4.0" height="5.6" rx="1.6" fill="#1d1b1b"/>
<rect x="619.3" y="796.0" width="1.3" height="1" fill="#bdbdbd"/>
<rect x="623.8" y="787.8" width="4.0" height="5.6" rx="1.6" fill="#1d1b1b"/>
<rect x="625.1" y="796.0" width="1.3" height="1" fill="#bdbdbd"/>
<rect x="629.7" y="787.8" width="4.0" height="5.6" rx="1.6" fill="#1d1b1b"/>
<rect x="631.0" y="796.0" width="1.3" height="1" fill="#bdbdbd"/>
<rect x="642.8" y="781.2" width="36.200000000000045" height="2.2" fill="#e4e4e4"/>
<rect x="643.7" y="787.8" width="4.2" height="5.6" rx="1.6" fill="#1d1b1b"/>
<rect x="645.0" y="796.0" width="1.3" height="1" fill="#bdbdbd"/>
<rect x="649.7" y="787.8" width="4.2" height="5.6" rx="1.6" fill="#1d1b1b"/>
<rect x="651.0" y="796.0" width="1.3" height="1" fill="#bdbdbd"/>
<rect x="655.8" y="787.8" width="4.2" height="5.6" rx="1.6" fill="#1d1b1b"/>
<rect x="657.1" y="796.0" width="1.3" height="1" fill="#bdbdbd"/>
<rect x="661.8" y="787.8" width="4.2" height="5.6" rx="1.6" fill="#1d1b1b"/>
<rect x="663.1" y="796.0" width="1.3" height="1" fill="#bdbdbd"/>
<rect x="667.8" y="787.8" width="4.2" height="5.6" rx="1.6" fill="#1d1b1b"/>
<rect x="669.1" y="796.0" width="1.3" height="1" fill="#bdbdbd"/>
<rect x="673.9" y="787.8" width="4.2" height="5.6" rx="1.6" fill="#1d1b1b"/>
<rect x="675.2" y="796.0" width="1.3" height="1" fill="#bdbdbd"/>
<rect x="551.4" y="784.8" width="1.2" height="11" fill="#5a5858"/>
<rect x="595.0" y="784.8" width="1.2" height="11" fill="#5a5858"/>
<rect x="638.1999999999999" y="784.8" width="1.2" height="11" fill="#5a5858"/>
<rect x="508.5" y="778.3" width="174.5" height="2.3" fill="#f0f0f0"/>
<rect x="684.6" y="786.0" width="4.6" height="1.2" fill="#e0e0e0"/>
<rect x="684.6" y="788.2" width="2" height="2.4" fill="#e0e0e0"/>
<rect x="687.4" y="788.6" width="2.2" height="1.6" fill="#d0d0d0"/>
<circle cx="503.4" cy="782.0" r="0.9" fill="#111"/>
<circle cx="503.4" cy="795.4" r="0.9" fill="#111"/>
<rect x="513.0" y="694.2" width="3.4" height="2.6" fill="#8a8fc0"/>
<rect x="557.0" y="694.2" width="3.4" height="2.6" fill="#7f9fd8"/>
<rect x="601.0" y="694.2" width="3.4" height="2.6" fill="#e6e6e6"/>
<rect x="645.0" y="694.2" width="3.4" height="2.6" fill="#d8d8d8"/>
<rect x="519.0" y="694.2" width="3.4" height="2.6" fill="#8a8fc0"/>
<rect x="563.0" y="694.2" width="3.4" height="2.6" fill="#7f9fd8"/>
<rect x="607.0" y="694.2" width="3.4" height="2.6" fill="#e6e6e6"/>
<rect x="651.0" y="694.2" width="3.4" height="2.6" fill="#d8d8d8"/>
<rect x="525.0" y="694.2" width="3.4" height="2.6" fill="#8a8fc0"/>
<rect x="569.0" y="694.2" width="3.4" height="2.6" fill="#7f9fd8"/>
<rect x="613.0" y="694.2" width="3.4" height="2.6" fill="#e6e6e6"/>
<rect x="657.0" y="694.2" width="3.4" height="2.6" fill="#d8d8d8"/>
<rect x="531.0" y="694.2" width="3.4" height="2.6" fill="#8a8fc0"/>
<rect x="575.0" y="694.2" width="3.4" height="2.6" fill="#7f9fd8"/>
<rect x="619.0" y="694.2" width="3.4" height="2.6" fill="#e6e6e6"/>
<rect x="663.0" y="694.2" width="3.4" height="2.6" fill="#d8d8d8"/>
<rect x="537.0" y="694.2" width="3.4" height="2.6" fill="#8a8fc0"/>
<rect x="581.0" y="694.2" width="3.4" height="2.6" fill="#7f9fd8"/>
<rect x="625.0" y="694.2" width="3.4" height="2.6" fill="#e6e6e6"/>
<rect x="669.0" y="694.2" width="3.4" height="2.6" fill="#d8d8d8"/>
<rect x="543.0" y="694.2" width="3.4" height="2.6" fill="#8a8fc0"/>
<rect x="587.0" y="694.2" width="3.4" height="2.6" fill="#7f9fd8"/>
<rect x="631.0" y="694.2" width="3.4" height="2.6" fill="#e6e6e6"/>
<rect x="675.0" y="694.2" width="3.4" height="2.6" fill="#d8d8d8"/>
<path d="M520.5,702 C520.5,712 534.5,705 534.5,719" fill="none" stroke="#1c1b1b" stroke-width="1.0"/>
<path d="M524.1,702 C524.1,712 534.5,705 534.5,719" fill="none" stroke="#1c1b1b" stroke-width="1.0"/>
<path d="M527.7,702 C527.7,712 534.5,705 534.5,719" fill="none" stroke="#1c1b1b" stroke-width="1.0"/>
<path d="M531.3,702 C531.3,712 534.5,705 534.5,719" fill="none" stroke="#1c1b1b" stroke-width="1.0"/>
<path d="M534.9,702 C534.9,712 534.5,705 534.5,719" fill="none" stroke="#1c1b1b" stroke-width="1.0"/>
<path d="M538.5,702 C538.5,712 534.5,705 534.5,719" fill="none" stroke="#1c1b1b" stroke-width="1.0"/>
<path d="M531,714 L534.4,724 L576.8,799 Q586,815 589.2,826 L590,839 L594,839 L593.4,826 Q590,812 582,797.6 L541.6,724 L537.6,714 Z" fill="#242222"/>
<path d="M559.0,696 C559.0,706 577.0,716 577.0,730" fill="none" stroke="#5a8fd0" stroke-width="1.3"/>
<path d="M564.6,696 C564.6,706 577.0,716 577.0,730" fill="none" stroke="#5a8fd0" stroke-width="1.3"/>
<path d="M570.2,696 C570.2,706 577.0,716 577.0,730" fill="none" stroke="#5a8fd0" stroke-width="1.3"/>
<path d="M575.8,696 C575.8,706 577.0,716 577.0,730" fill="none" stroke="#5a8fd0" stroke-width="1.3"/>
<path d="M581.4,696 C581.4,706 577.0,716 577.0,730" fill="none" stroke="#5a8fd0" stroke-width="1.3"/>
<path d="M587.0,696 C587.0,706 577.0,716 577.0,730" fill="none" stroke="#5a8fd0" stroke-width="1.3"/>
<path d="M573.6,726 L575.6,750 L586.4,798 Q590,815 593.4,828 L594,839 L596.4,839 L596,828 Q593.6,812 591.2,798 L584,750 L580.6,726 Z" fill="#2f7fbe"/>
<path d="M576.4,728 L578.6,750 L588.6,798" fill="none" stroke="#5aa0d8" stroke-width="1"/>
<path d="M602.0,696 C602.0,706 611.0,714 611.0,728" fill="none" stroke="#f2f2f2" stroke-width="1.4"/>
<path d="M607.6,696 C607.6,706 611.0,714 611.0,728" fill="none" stroke="#f2f2f2" stroke-width="1.4"/>
<path d="M613.2,696 C613.2,706 611.0,714 611.0,728" fill="none" stroke="#f2f2f2" stroke-width="1.4"/>
<path d="M618.8,696 C618.8,706 611.0,714 611.0,728" fill="none" stroke="#f2f2f2" stroke-width="1.4"/>
<path d="M624.4,696 C624.4,706 611.0,714 611.0,728" fill="none" stroke="#f2f2f2" stroke-width="1.4"/>
<path d="M630.0,696 C630.0,706 611.0,714 611.0,728" fill="none" stroke="#f2f2f2" stroke-width="1.4"/>
<path d="M608,724 L605.6,750 L598.4,798 Q597.4,812 597,824 L596.6,839 L598.6,839 L599.4,824 Q601,812 604.4,798 L612.8,750 L614.4,724 Z" fill="#ececec"/>
<path d="M648.0,696 C648.0,706 660.5,710 660.5,724" fill="none" stroke="#d6d6d6" stroke-width="1.3"/>
<path d="M653.6,696 C653.6,706 660.5,710 660.5,724" fill="none" stroke="#d6d6d6" stroke-width="1.3"/>
<path d="M659.2,696 C659.2,706 660.5,710 660.5,724" fill="none" stroke="#d6d6d6" stroke-width="1.3"/>
<path d="M664.8,696 C664.8,706 660.5,710 660.5,724" fill="none" stroke="#d6d6d6" stroke-width="1.3"/>
<path d="M670.4,696 C670.4,706 660.5,710 660.5,724" fill="none" stroke="#d6d6d6" stroke-width="1.3"/>
<path d="M676.0,696 C676.0,706 660.5,710 660.5,724" fill="none" stroke="#d6d6d6" stroke-width="1.3"/>
<path d="M657,721 Q656,728 640.4,750 L612.8,798 Q603,812 600,824 L598.4,839 L600.4,839 L602,824 Q606,812 618.8,798 L647.6,750 Q662,730 664.4,721 Z" fill="#c2c2c2"/>
<path d="M660.6,724 Q659,731 644,750 L615.8,798 Q606,812 601.4,824" fill="none" stroke="#8a8a8a" stroke-width="0.8"/>
</g>

<!-- ============ PHOTO (regular) ============ -->
<clipPath id="cph"><rect x="738" y="677" width="222" height="163"/></clipPath>
<g id="photo" clip-path="url(#cph)">
<g filter="url(#fblur)">
<rect x="738" y="677" width="222" height="163" fill="#0d1022"/>
<rect x="738" y="677" width="222" height="11.2" fill="#14120e"/>
<rect x="760" y="683.2" width="165" height="1.5" fill="#38342b"/>
<rect x="738" y="677" width="10" height="14" fill="#0a0a0a"/>
<rect x="748" y="688.1" width="175" height="4.6" fill="#14120a"/>
<rect x="757.0" y="688.7" width="2.1" height="3.4" fill="#ddd6b2" opacity="1.00"/>
<rect x="762.6" y="688.7" width="2.1" height="3.4" fill="#ddd6b2" opacity="1.00"/>
<rect x="768.2" y="688.7" width="2.1" height="3.4" fill="#ddd6b2" opacity="1.00"/>
<rect x="773.8" y="688.7" width="2.1" height="3.4" fill="#ddd6b2" opacity="1.00"/>
<rect x="779.4" y="688.7" width="2.1" height="3.4" fill="#ddd6b2" opacity="1.00"/>
<rect x="785.0" y="688.7" width="2.1" height="3.4" fill="#ddd6b2" opacity="1.00"/>
<rect x="790.6" y="688.7" width="2.1" height="3.4" fill="#ddd6b2" opacity="1.00"/>
<rect x="796.2" y="688.7" width="2.1" height="3.4" fill="#ddd6b2" opacity="1.00"/>
<rect x="801.8" y="688.7" width="2.1" height="3.4" fill="#ddd6b2" opacity="1.00"/>
<rect x="807.4" y="688.7" width="2.1" height="3.4" fill="#ddd6b2" opacity="1.00"/>
<rect x="813.0" y="688.7" width="2.1" height="3.4" fill="#ddd6b2" opacity="1.00"/>
<rect x="829.8" y="688.7" width="2.1" height="3.4" fill="#ddd6b2" opacity="0.94"/>
<rect x="835.4" y="688.7" width="2.1" height="3.4" fill="#ddd6b2" opacity="0.88"/>
<rect x="841.0" y="688.7" width="2.1" height="3.4" fill="#ddd6b2" opacity="0.82"/>
<rect x="846.6" y="688.7" width="2.1" height="3.4" fill="#ddd6b2" opacity="0.76"/>
<rect x="852.2" y="688.7" width="2.1" height="3.4" fill="#ddd6b2" opacity="0.71"/>
<rect x="857.8" y="688.7" width="2.1" height="3.4" fill="#ddd6b2" opacity="0.65"/>
<rect x="863.4" y="688.7" width="2.1" height="3.4" fill="#ddd6b2" opacity="0.59"/>
<rect x="869.0" y="688.7" width="2.1" height="3.4" fill="#ddd6b2" opacity="0.53"/>
<rect x="874.6" y="688.7" width="2.1" height="3.4" fill="#ddd6b2" opacity="0.47"/>
<rect x="880.2" y="688.7" width="2.1" height="3.4" fill="#ddd6b2" opacity="0.41"/>
<rect x="885.8" y="688.7" width="2.1" height="3.4" fill="#ddd6b2" opacity="0.35"/>
<rect x="891.4" y="688.7" width="2.1" height="3.4" fill="#ddd6b2" opacity="0.30"/>
<rect x="897.0" y="688.7" width="2.1" height="3.4" fill="#ddd6b2" opacity="0.30"/>
<rect x="748" y="702.1" width="170" height="2.2" fill="#1a160c"/>
<rect x="750.0" y="704.1" width="68.4" height="2.3" fill="#e2d9b0"/>
<rect x="824.2" y="704.1" width="77.8" height="2.3" fill="url(#gstripR)"/>
<rect x="748" y="706.6" width="175" height="4.6" fill="#14120a"/>
<rect x="757.0" y="707.2" width="2.1" height="3.4" fill="#ddd6b2" opacity="1.00"/>
<rect x="762.6" y="707.2" width="2.1" height="3.4" fill="#ddd6b2" opacity="1.00"/>
<rect x="768.2" y="707.2" width="2.1" height="3.4" fill="#ddd6b2" opacity="1.00"/>
<rect x="773.8" y="707.2" width="2.1" height="3.4" fill="#ddd6b2" opacity="1.00"/>
<rect x="779.4" y="707.2" width="2.1" height="3.4" fill="#ddd6b2" opacity="1.00"/>
<rect x="785.0" y="707.2" width="2.1" height="3.4" fill="#ddd6b2" opacity="1.00"/>
<rect x="790.6" y="707.2" width="2.1" height="3.4" fill="#ddd6b2" opacity="1.00"/>
<rect x="796.2" y="707.2" width="2.1" height="3.4" fill="#ddd6b2" opacity="1.00"/>
<rect x="801.8" y="707.2" width="2.1" height="3.4" fill="#ddd6b2" opacity="1.00"/>
<rect x="807.4" y="707.2" width="2.1" height="3.4" fill="#ddd6b2" opacity="1.00"/>
<rect x="813.0" y="707.2" width="2.1" height="3.4" fill="#ddd6b2" opacity="1.00"/>
<rect x="829.8" y="707.2" width="2.1" height="3.4" fill="#ddd6b2" opacity="0.94"/>
<rect x="835.4" y="707.2" width="2.1" height="3.4" fill="#ddd6b2" opacity="0.88"/>
<rect x="841.0" y="707.2" width="2.1" height="3.4" fill="#ddd6b2" opacity="0.82"/>
<rect x="846.6" y="707.2" width="2.1" height="3.4" fill="#ddd6b2" opacity="0.76"/>
<rect x="852.2" y="707.2" width="2.1" height="3.4" fill="#ddd6b2" opacity="0.71"/>
<rect x="857.8" y="707.2" width="2.1" height="3.4" fill="#ddd6b2" opacity="0.65"/>
<rect x="863.4" y="707.2" width="2.1" height="3.4" fill="#ddd6b2" opacity="0.59"/>
<rect x="869.0" y="707.2" width="2.1" height="3.4" fill="#ddd6b2" opacity="0.53"/>
<rect x="874.6" y="707.2" width="2.1" height="3.4" fill="#ddd6b2" opacity="0.47"/>
<rect x="880.2" y="707.2" width="2.1" height="3.4" fill="#ddd6b2" opacity="0.41"/>
<rect x="885.8" y="707.2" width="2.1" height="3.4" fill="#ddd6b2" opacity="0.35"/>
<rect x="891.4" y="707.2" width="2.1" height="3.4" fill="#ddd6b2" opacity="0.30"/>
<rect x="897.0" y="707.2" width="2.1" height="3.4" fill="#ddd6b2" opacity="0.30"/>
<rect x="748" y="720.6" width="170" height="2.2" fill="#1a160c"/>
<rect x="751.0" y="722.6" width="67.4" height="2.3" fill="#e2d9b0"/>
<rect x="824.2" y="722.6" width="74.8" height="2.3" fill="url(#gstripR)"/>
<rect x="748" y="725.0" width="175" height="4.6" fill="#14120a"/>
<rect x="757.0" y="725.6" width="2.1" height="3.4" fill="#ddd6b2" opacity="1.00"/>
<rect x="762.6" y="725.6" width="2.1" height="3.4" fill="#ddd6b2" opacity="1.00"/>
<rect x="768.2" y="725.6" width="2.1" height="3.4" fill="#ddd6b2" opacity="1.00"/>
<rect x="773.8" y="725.6" width="2.1" height="3.4" fill="#ddd6b2" opacity="1.00"/>
<rect x="779.4" y="725.6" width="2.1" height="3.4" fill="#ddd6b2" opacity="1.00"/>
<rect x="785.0" y="725.6" width="2.1" height="3.4" fill="#ddd6b2" opacity="1.00"/>
<rect x="790.6" y="725.6" width="2.1" height="3.4" fill="#ddd6b2" opacity="1.00"/>
<rect x="796.2" y="725.6" width="2.1" height="3.4" fill="#ddd6b2" opacity="1.00"/>
<rect x="801.8" y="725.6" width="2.1" height="3.4" fill="#ddd6b2" opacity="1.00"/>
<rect x="807.4" y="725.6" width="2.1" height="3.4" fill="#ddd6b2" opacity="1.00"/>
<rect x="813.0" y="725.6" width="2.1" height="3.4" fill="#ddd6b2" opacity="1.00"/>
<rect x="829.8" y="725.6" width="2.1" height="3.4" fill="#ddd6b2" opacity="0.94"/>
<rect x="835.4" y="725.6" width="2.1" height="3.4" fill="#ddd6b2" opacity="0.88"/>
<rect x="841.0" y="725.6" width="2.1" height="3.4" fill="#ddd6b2" opacity="0.82"/>
<rect x="846.6" y="725.6" width="2.1" height="3.4" fill="#ddd6b2" opacity="0.76"/>
<rect x="852.2" y="725.6" width="2.1" height="3.4" fill="#ddd6b2" opacity="0.71"/>
<rect x="857.8" y="725.6" width="2.1" height="3.4" fill="#ddd6b2" opacity="0.65"/>
<rect x="863.4" y="725.6" width="2.1" height="3.4" fill="#ddd6b2" opacity="0.59"/>
<rect x="869.0" y="725.6" width="2.1" height="3.4" fill="#ddd6b2" opacity="0.53"/>
<rect x="874.6" y="725.6" width="2.1" height="3.4" fill="#ddd6b2" opacity="0.47"/>
<rect x="880.2" y="725.6" width="2.1" height="3.4" fill="#ddd6b2" opacity="0.41"/>
<rect x="885.8" y="725.6" width="2.1" height="3.4" fill="#ddd6b2" opacity="0.35"/>
<rect x="891.4" y="725.6" width="2.1" height="3.4" fill="#ddd6b2" opacity="0.30"/>
<rect x="748" y="739.0" width="170" height="2.2" fill="#1a160c"/>
<rect x="752.0" y="741.0" width="66.4" height="2.3" fill="#e2d9b0"/>
<rect x="824.2" y="741.0" width="71.8" height="2.3" fill="url(#gstripR)"/>
<rect x="748" y="743.5" width="175" height="4.6" fill="#14120a"/>
<rect x="757.0" y="744.1" width="2.1" height="3.4" fill="#ddd6b2" opacity="1.00"/>
<rect x="762.6" y="744.1" width="2.1" height="3.4" fill="#ddd6b2" opacity="1.00"/>
<rect x="768.2" y="744.1" width="2.1" height="3.4" fill="#ddd6b2" opacity="1.00"/>
<rect x="773.8" y="744.1" width="2.1" height="3.4" fill="#ddd6b2" opacity="1.00"/>
<rect x="779.4" y="744.1" width="2.1" height="3.4" fill="#ddd6b2" opacity="1.00"/>
<rect x="785.0" y="744.1" width="2.1" height="3.4" fill="#ddd6b2" opacity="1.00"/>
<rect x="790.6" y="744.1" width="2.1" height="3.4" fill="#ddd6b2" opacity="1.00"/>
<rect x="796.2" y="744.1" width="2.1" height="3.4" fill="#ddd6b2" opacity="1.00"/>
<rect x="801.8" y="744.1" width="2.1" height="3.4" fill="#ddd6b2" opacity="1.00"/>
<rect x="807.4" y="744.1" width="2.1" height="3.4" fill="#ddd6b2" opacity="1.00"/>
<rect x="813.0" y="744.1" width="2.1" height="3.4" fill="#ddd6b2" opacity="1.00"/>
<rect x="829.8" y="744.1" width="2.1" height="3.4" fill="#ddd6b2" opacity="0.94"/>
<rect x="835.4" y="744.1" width="2.1" height="3.4" fill="#ddd6b2" opacity="0.88"/>
<rect x="841.0" y="744.1" width="2.1" height="3.4" fill="#ddd6b2" opacity="0.82"/>
<rect x="846.6" y="744.1" width="2.1" height="3.4" fill="#ddd6b2" opacity="0.76"/>
<rect x="852.2" y="744.1" width="2.1" height="3.4" fill="#ddd6b2" opacity="0.71"/>
<rect x="857.8" y="744.1" width="2.1" height="3.4" fill="#ddd6b2" opacity="0.65"/>
<rect x="863.4" y="744.1" width="2.1" height="3.4" fill="#ddd6b2" opacity="0.59"/>
<rect x="869.0" y="744.1" width="2.1" height="3.4" fill="#ddd6b2" opacity="0.53"/>
<rect x="874.6" y="744.1" width="2.1" height="3.4" fill="#ddd6b2" opacity="0.47"/>
<rect x="880.2" y="744.1" width="2.1" height="3.4" fill="#ddd6b2" opacity="0.41"/>
<rect x="885.8" y="744.1" width="2.1" height="3.4" fill="#ddd6b2" opacity="0.35"/>
<rect x="891.4" y="744.1" width="2.1" height="3.4" fill="#ddd6b2" opacity="0.30"/>
<rect x="748" y="757.5" width="170" height="2.2" fill="#1a160c"/>
<rect x="753.0" y="759.5" width="65.4" height="2.3" fill="#e2d9b0"/>
<rect x="824.2" y="759.5" width="68.8" height="2.3" fill="url(#gstripR)"/>
<rect x="748" y="761.9" width="175" height="4.6" fill="#14120a"/>
<rect x="757.0" y="762.5" width="2.1" height="3.4" fill="#ddd6b2" opacity="1.00"/>
<rect x="762.6" y="762.5" width="2.1" height="3.4" fill="#ddd6b2" opacity="1.00"/>
<rect x="768.2" y="762.5" width="2.1" height="3.4" fill="#ddd6b2" opacity="1.00"/>
<rect x="773.8" y="762.5" width="2.1" height="3.4" fill="#ddd6b2" opacity="1.00"/>
<rect x="779.4" y="762.5" width="2.1" height="3.4" fill="#ddd6b2" opacity="1.00"/>
<rect x="785.0" y="762.5" width="2.1" height="3.4" fill="#ddd6b2" opacity="1.00"/>
<rect x="790.6" y="762.5" width="2.1" height="3.4" fill="#ddd6b2" opacity="1.00"/>
<rect x="796.2" y="762.5" width="2.1" height="3.4" fill="#ddd6b2" opacity="1.00"/>
<rect x="801.8" y="762.5" width="2.1" height="3.4" fill="#ddd6b2" opacity="1.00"/>
<rect x="807.4" y="762.5" width="2.1" height="3.4" fill="#ddd6b2" opacity="1.00"/>
<rect x="813.0" y="762.5" width="2.1" height="3.4" fill="#ddd6b2" opacity="1.00"/>
<rect x="829.8" y="762.5" width="2.1" height="3.4" fill="#ddd6b2" opacity="0.94"/>
<rect x="835.4" y="762.5" width="2.1" height="3.4" fill="#ddd6b2" opacity="0.88"/>
<rect x="841.0" y="762.5" width="2.1" height="3.4" fill="#ddd6b2" opacity="0.82"/>
<rect x="846.6" y="762.5" width="2.1" height="3.4" fill="#ddd6b2" opacity="0.76"/>
<rect x="852.2" y="762.5" width="2.1" height="3.4" fill="#ddd6b2" opacity="0.71"/>
<rect x="857.8" y="762.5" width="2.1" height="3.4" fill="#ddd6b2" opacity="0.65"/>
<rect x="863.4" y="762.5" width="2.1" height="3.4" fill="#ddd6b2" opacity="0.59"/>
<rect x="869.0" y="762.5" width="2.1" height="3.4" fill="#ddd6b2" opacity="0.53"/>
<rect x="874.6" y="762.5" width="2.1" height="3.4" fill="#ddd6b2" opacity="0.47"/>
<rect x="880.2" y="762.5" width="2.1" height="3.4" fill="#ddd6b2" opacity="0.41"/>
<rect x="885.8" y="762.5" width="2.1" height="3.4" fill="#ddd6b2" opacity="0.35"/>
<rect x="748" y="775.9" width="170" height="2.2" fill="#1a160c"/>
<rect x="754.0" y="777.9" width="64.4" height="2.3" fill="#e2d9b0"/>
<rect x="824.2" y="777.9" width="65.8" height="2.3" fill="url(#gstripR)"/>
<rect x="748" y="780.4" width="175" height="4.6" fill="#14120a"/>
<rect x="757.0" y="781.0" width="2.1" height="3.4" fill="#ddd6b2" opacity="1.00"/>
<rect x="762.6" y="781.0" width="2.1" height="3.4" fill="#ddd6b2" opacity="1.00"/>
<rect x="768.2" y="781.0" width="2.1" height="3.4" fill="#ddd6b2" opacity="1.00"/>
<rect x="773.8" y="781.0" width="2.1" height="3.4" fill="#ddd6b2" opacity="1.00"/>
<rect x="779.4" y="781.0" width="2.1" height="3.4" fill="#ddd6b2" opacity="1.00"/>
<rect x="785.0" y="781.0" width="2.1" height="3.4" fill="#ddd6b2" opacity="1.00"/>
<rect x="790.6" y="781.0" width="2.1" height="3.4" fill="#ddd6b2" opacity="1.00"/>
<rect x="796.2" y="781.0" width="2.1" height="3.4" fill="#ddd6b2" opacity="1.00"/>
<rect x="801.8" y="781.0" width="2.1" height="3.4" fill="#ddd6b2" opacity="1.00"/>
<rect x="807.4" y="781.0" width="2.1" height="3.4" fill="#ddd6b2" opacity="1.00"/>
<rect x="813.0" y="781.0" width="2.1" height="3.4" fill="#ddd6b2" opacity="1.00"/>
<rect x="829.8" y="781.0" width="2.1" height="3.4" fill="#ddd6b2" opacity="0.94"/>
<rect x="835.4" y="781.0" width="2.1" height="3.4" fill="#ddd6b2" opacity="0.88"/>
<rect x="841.0" y="781.0" width="2.1" height="3.4" fill="#ddd6b2" opacity="0.82"/>
<rect x="846.6" y="781.0" width="2.1" height="3.4" fill="#ddd6b2" opacity="0.76"/>
<rect x="852.2" y="781.0" width="2.1" height="3.4" fill="#ddd6b2" opacity="0.71"/>
<rect x="857.8" y="781.0" width="2.1" height="3.4" fill="#ddd6b2" opacity="0.65"/>
<rect x="863.4" y="781.0" width="2.1" height="3.4" fill="#ddd6b2" opacity="0.59"/>
<rect x="869.0" y="781.0" width="2.1" height="3.4" fill="#ddd6b2" opacity="0.53"/>
<rect x="874.6" y="781.0" width="2.1" height="3.4" fill="#ddd6b2" opacity="0.47"/>
<rect x="880.2" y="781.0" width="2.1" height="3.4" fill="#ddd6b2" opacity="0.41"/>
<rect x="885.8" y="781.0" width="2.1" height="3.4" fill="#ddd6b2" opacity="0.35"/>
<rect x="748" y="794.4" width="170" height="2.2" fill="#1a160c"/>
<rect x="755.0" y="796.4" width="63.4" height="2.3" fill="#e2d9b0"/>
<rect x="824.2" y="796.4" width="62.8" height="2.3" fill="url(#gstripR)"/>
<rect x="748" y="798.8" width="175" height="4.6" fill="#14120a"/>
<rect x="757.0" y="799.4" width="2.1" height="3.4" fill="#ddd6b2" opacity="1.00"/>
<rect x="762.6" y="799.4" width="2.1" height="3.4" fill="#ddd6b2" opacity="1.00"/>
<rect x="768.2" y="799.4" width="2.1" height="3.4" fill="#ddd6b2" opacity="1.00"/>
<rect x="773.8" y="799.4" width="2.1" height="3.4" fill="#ddd6b2" opacity="1.00"/>
<rect x="779.4" y="799.4" width="2.1" height="3.4" fill="#ddd6b2" opacity="1.00"/>
<rect x="785.0" y="799.4" width="2.1" height="3.4" fill="#ddd6b2" opacity="1.00"/>
<rect x="790.6" y="799.4" width="2.1" height="3.4" fill="#ddd6b2" opacity="1.00"/>
<rect x="796.2" y="799.4" width="2.1" height="3.4" fill="#ddd6b2" opacity="1.00"/>
<rect x="801.8" y="799.4" width="2.1" height="3.4" fill="#ddd6b2" opacity="1.00"/>
<rect x="807.4" y="799.4" width="2.1" height="3.4" fill="#ddd6b2" opacity="1.00"/>
<rect x="813.0" y="799.4" width="2.1" height="3.4" fill="#ddd6b2" opacity="1.00"/>
<rect x="829.8" y="799.4" width="2.1" height="3.4" fill="#ddd6b2" opacity="0.94"/>
<rect x="835.4" y="799.4" width="2.1" height="3.4" fill="#ddd6b2" opacity="0.88"/>
<rect x="841.0" y="799.4" width="2.1" height="3.4" fill="#ddd6b2" opacity="0.82"/>
<rect x="846.6" y="799.4" width="2.1" height="3.4" fill="#ddd6b2" opacity="0.76"/>
<rect x="852.2" y="799.4" width="2.1" height="3.4" fill="#ddd6b2" opacity="0.71"/>
<rect x="857.8" y="799.4" width="2.1" height="3.4" fill="#ddd6b2" opacity="0.65"/>
<rect x="863.4" y="799.4" width="2.1" height="3.4" fill="#ddd6b2" opacity="0.59"/>
<rect x="869.0" y="799.4" width="2.1" height="3.4" fill="#ddd6b2" opacity="0.53"/>
<rect x="874.6" y="799.4" width="2.1" height="3.4" fill="#ddd6b2" opacity="0.47"/>
<rect x="880.2" y="799.4" width="2.1" height="3.4" fill="#ddd6b2" opacity="0.41"/>
<rect x="748" y="812.8" width="170" height="2.2" fill="#1a160c"/>
<rect x="756.0" y="814.8" width="62.4" height="2.3" fill="#e2d9b0"/>
<rect x="824.2" y="814.8" width="59.8" height="2.3" fill="url(#gstripR)"/>
<path d="M818.4,692.5 C782.2,692.5 762.1,691.0 738.0,691.0 L738.0,706.2 C762.1,706.2 782.2,702.7 818.4,702.7 Z" fill="url(#gblue)"/>
<path d="M824.2,692.5 C870.0,691.5 895.5,690.0 926.0,690.0 L960.0,698.5 L960,715.7 L926.0,706.2 C895.5,706.2 870.0,702.7 824.2,702.7 Z" fill="url(#gblue)"/>
<path d="M815.4,693.8 C780.6,693.8 761.2,693.8 738.0,693.8" fill="none" stroke="#7aa4f4" stroke-width="0.9" opacity="0.65"/>
<path d="M815.4,695.4 C780.6,695.4 761.2,695.4 738.0,695.4" fill="none" stroke="#14257c" stroke-width="0.8" opacity="0.7"/>
<path d="M827.2,693.8 C871.7,693.8 896.4,693.8 926.0,693.8 L960,701.8" fill="none" stroke="#7aa4f4" stroke-width="0.9" opacity="0.65"/>
<path d="M827.2,695.4 C871.7,695.4 896.4,695.4 926.0,695.4 L960,703.4" fill="none" stroke="#14257c" stroke-width="0.8" opacity="0.7"/>
<path d="M815.4,696.9 C780.6,696.9 761.2,696.9 738.0,696.9" fill="none" stroke="#7aa4f4" stroke-width="0.9" opacity="0.65"/>
<path d="M815.4,698.5 C780.6,698.5 761.2,698.5 738.0,698.5" fill="none" stroke="#14257c" stroke-width="0.8" opacity="0.7"/>
<path d="M827.2,696.9 C871.7,696.9 896.4,696.9 926.0,696.9 L960,704.9" fill="none" stroke="#7aa4f4" stroke-width="0.9" opacity="0.65"/>
<path d="M827.2,698.5 C871.7,698.5 896.4,698.5 926.0,698.5 L960,706.5" fill="none" stroke="#14257c" stroke-width="0.8" opacity="0.7"/>
<path d="M815.4,700.0 C780.6,700.0 761.2,700.0 738.0,700.0" fill="none" stroke="#7aa4f4" stroke-width="0.9" opacity="0.65"/>
<path d="M815.4,701.6 C780.6,701.6 761.2,701.6 738.0,701.6" fill="none" stroke="#14257c" stroke-width="0.8" opacity="0.7"/>
<path d="M827.2,700.0 C871.7,700.0 896.4,700.0 926.0,700.0 L960,708.0" fill="none" stroke="#7aa4f4" stroke-width="0.9" opacity="0.65"/>
<path d="M827.2,701.6 C871.7,701.6 896.4,701.6 926.0,701.6 L960,709.6" fill="none" stroke="#14257c" stroke-width="0.8" opacity="0.7"/>
<path d="M818.4,711.0 C782.2,711.0 762.1,709.8 738.0,709.8 L738.0,725.0 C762.1,725.0 782.2,721.2 818.4,721.2 Z" fill="url(#gblue)"/>
<path d="M824.2,711.0 C870.0,710.0 895.5,708.9 926.0,708.9 L960.0,718.1 L960,735.4 L926.0,725.1 C895.5,725.1 870.0,721.2 824.2,721.2 Z" fill="url(#gblue)"/>
<path d="M815.4,712.2 C780.6,712.2 761.2,712.5 738.0,712.5" fill="none" stroke="#7aa4f4" stroke-width="0.9" opacity="0.65"/>
<path d="M815.4,713.9 C780.6,713.9 761.2,714.1 738.0,714.1" fill="none" stroke="#14257c" stroke-width="0.8" opacity="0.7"/>
<path d="M827.2,712.2 C871.7,712.2 896.4,712.6 926.0,712.6 L960,721.4" fill="none" stroke="#7aa4f4" stroke-width="0.9" opacity="0.65"/>
<path d="M827.2,713.9 C871.7,713.9 896.4,714.2 926.0,714.2 L960,723.0" fill="none" stroke="#14257c" stroke-width="0.8" opacity="0.7"/>
<path d="M815.4,715.4 C780.6,715.4 761.2,715.6 738.0,715.6" fill="none" stroke="#7aa4f4" stroke-width="0.9" opacity="0.65"/>
<path d="M815.4,717.0 C780.6,717.0 761.2,717.2 738.0,717.2" fill="none" stroke="#14257c" stroke-width="0.8" opacity="0.7"/>
<path d="M827.2,715.4 C871.7,715.4 896.4,715.8 926.0,715.8 L960,724.5" fill="none" stroke="#7aa4f4" stroke-width="0.9" opacity="0.65"/>
<path d="M827.2,717.0 C871.7,717.0 896.4,717.4 926.0,717.4 L960,726.1" fill="none" stroke="#14257c" stroke-width="0.8" opacity="0.7"/>
<path d="M815.4,718.5 C780.6,718.5 761.2,718.8 738.0,718.8" fill="none" stroke="#7aa4f4" stroke-width="0.9" opacity="0.65"/>
<path d="M815.4,720.1 C780.6,720.1 761.2,720.4 738.0,720.4" fill="none" stroke="#14257c" stroke-width="0.8" opacity="0.7"/>
<path d="M827.2,718.5 C871.7,718.5 896.4,718.9 926.0,718.9 L960,727.6" fill="none" stroke="#7aa4f4" stroke-width="0.9" opacity="0.65"/>
<path d="M827.2,720.1 C871.7,720.1 896.4,720.5 926.0,720.5 L960,729.2" fill="none" stroke="#14257c" stroke-width="0.8" opacity="0.7"/>
<path d="M818.4,729.4 C782.2,729.4 762.1,728.9 738.0,728.9 L738.0,744.1 C762.1,744.1 782.2,739.6 818.4,739.6 Z" fill="url(#gblue)"/>
<path d="M824.2,729.4 C870.0,728.4 895.5,728.9 926.0,728.9 L960.0,739.0 L960,756.2 L926.0,745.1 C895.5,745.1 870.0,739.6 824.2,739.6 Z" fill="url(#gblue)"/>
<path d="M815.4,730.7 C780.6,730.7 761.2,731.7 738.0,731.7" fill="none" stroke="#7aa4f4" stroke-width="0.9" opacity="0.65"/>
<path d="M815.4,732.3 C780.6,732.3 761.2,733.3 738.0,733.3" fill="none" stroke="#14257c" stroke-width="0.8" opacity="0.7"/>
<path d="M827.2,730.7 C871.7,730.7 896.4,732.7 926.0,732.7 L960,742.3" fill="none" stroke="#7aa4f4" stroke-width="0.9" opacity="0.65"/>
<path d="M827.2,732.3 C871.7,732.3 896.4,734.3 926.0,734.3 L960,743.9" fill="none" stroke="#14257c" stroke-width="0.8" opacity="0.7"/>
<path d="M815.4,733.8 C780.6,733.8 761.2,734.8 738.0,734.8" fill="none" stroke="#7aa4f4" stroke-width="0.9" opacity="0.65"/>
<path d="M815.4,735.4 C780.6,735.4 761.2,736.4 738.0,736.4" fill="none" stroke="#14257c" stroke-width="0.8" opacity="0.7"/>
<path d="M827.2,733.8 C871.7,733.8 896.4,735.8 926.0,735.8 L960,745.4" fill="none" stroke="#7aa4f4" stroke-width="0.9" opacity="0.65"/>
<path d="M827.2,735.4 C871.7,735.4 896.4,737.4 926.0,737.4 L960,747.0" fill="none" stroke="#14257c" stroke-width="0.8" opacity="0.7"/>
<path d="M815.4,736.9 C780.6,736.9 761.2,737.9 738.0,737.9" fill="none" stroke="#7aa4f4" stroke-width="0.9" opacity="0.65"/>
<path d="M815.4,738.5 C780.6,738.5 761.2,739.5 738.0,739.5" fill="none" stroke="#14257c" stroke-width="0.8" opacity="0.7"/>
<path d="M827.2,736.9 C871.7,736.9 896.4,738.9 926.0,738.9 L960,748.5" fill="none" stroke="#7aa4f4" stroke-width="0.9" opacity="0.65"/>
<path d="M827.2,738.5 C871.7,738.5 896.4,740.5 926.0,740.5 L960,750.1" fill="none" stroke="#14257c" stroke-width="0.8" opacity="0.7"/>
<path d="M818.4,747.9 C782.2,747.9 762.1,749.0 738.0,749.0 L738.0,764.2 C762.1,764.2 782.2,758.1 818.4,758.1 Z" fill="url(#gblue)"/>
<path d="M824.2,747.9 C870.0,746.9 895.5,750.4 926.0,750.4 L960.0,761.2 L960,778.5 L926.0,766.6 C895.5,766.6 870.0,758.1 824.2,758.1 Z" fill="url(#gblue)"/>
<path d="M815.4,749.1 C780.6,749.1 761.2,751.8 738.0,751.8" fill="none" stroke="#7aa4f4" stroke-width="0.9" opacity="0.65"/>
<path d="M815.4,750.8 C780.6,750.8 761.2,753.4 738.0,753.4" fill="none" stroke="#14257c" stroke-width="0.8" opacity="0.7"/>
<path d="M827.2,749.1 C871.7,749.1 896.4,754.1 926.0,754.1 L960,764.5" fill="none" stroke="#7aa4f4" stroke-width="0.9" opacity="0.65"/>
<path d="M827.2,750.8 C871.7,750.8 896.4,755.8 926.0,755.8 L960,766.1" fill="none" stroke="#14257c" stroke-width="0.8" opacity="0.7"/>
<path d="M815.4,752.2 C780.6,752.2 761.2,754.9 738.0,754.9" fill="none" stroke="#7aa4f4" stroke-width="0.9" opacity="0.65"/>
<path d="M815.4,753.9 C780.6,753.9 761.2,756.5 738.0,756.5" fill="none" stroke="#14257c" stroke-width="0.8" opacity="0.7"/>
<path d="M827.2,752.2 C871.7,752.2 896.4,757.2 926.0,757.2 L960,767.6" fill="none" stroke="#7aa4f4" stroke-width="0.9" opacity="0.65"/>
<path d="M827.2,753.9 C871.7,753.9 896.4,758.9 926.0,758.9 L960,769.2" fill="none" stroke="#14257c" stroke-width="0.8" opacity="0.7"/>
<path d="M815.4,755.4 C780.6,755.4 761.2,758.0 738.0,758.0" fill="none" stroke="#7aa4f4" stroke-width="0.9" opacity="0.65"/>
<path d="M815.4,757.0 C780.6,757.0 761.2,759.6 738.0,759.6" fill="none" stroke="#14257c" stroke-width="0.8" opacity="0.7"/>
<path d="M827.2,755.4 C871.7,755.4 896.4,760.4 926.0,760.4 L960,770.8" fill="none" stroke="#7aa4f4" stroke-width="0.9" opacity="0.65"/>
<path d="M827.2,757.0 C871.7,757.0 896.4,762.0 926.0,762.0 L960,772.4" fill="none" stroke="#14257c" stroke-width="0.8" opacity="0.7"/>
<path d="M818.4,766.3 C782.2,766.3 762.1,769.8 738.0,769.8 L738.0,785.0 C762.1,785.0 782.2,776.5 818.4,776.5 Z" fill="url(#gblue)"/>
<path d="M824.2,766.3 C870.0,765.3 895.5,771.8 926.0,771.8 L960.0,783.5 L960,800.7 L926.0,788.0 C895.5,788.0 870.0,776.5 824.2,776.5 Z" fill="url(#gblue)"/>
<path d="M815.4,767.6 C780.6,767.6 761.2,772.6 738.0,772.6" fill="none" stroke="#7aa4f4" stroke-width="0.9" opacity="0.65"/>
<path d="M815.4,769.2 C780.6,769.2 761.2,774.2 738.0,774.2" fill="none" stroke="#14257c" stroke-width="0.8" opacity="0.7"/>
<path d="M827.2,767.6 C871.7,767.6 896.4,775.6 926.0,775.6 L960,786.8" fill="none" stroke="#7aa4f4" stroke-width="0.9" opacity="0.65"/>
<path d="M827.2,769.2 C871.7,769.2 896.4,777.2 926.0,777.2 L960,788.4" fill="none" stroke="#14257c" stroke-width="0.8" opacity="0.7"/>
<path d="M815.4,770.7 C780.6,770.7 761.2,775.7 738.0,775.7" fill="none" stroke="#7aa4f4" stroke-width="0.9" opacity="0.65"/>
<path d="M815.4,772.3 C780.6,772.3 761.2,777.3 738.0,777.3" fill="none" stroke="#14257c" stroke-width="0.8" opacity="0.7"/>
<path d="M827.2,770.7 C871.7,770.7 896.4,778.7 926.0,778.7 L960,789.9" fill="none" stroke="#7aa4f4" stroke-width="0.9" opacity="0.65"/>
<path d="M827.2,772.3 C871.7,772.3 896.4,780.3 926.0,780.3 L960,791.5" fill="none" stroke="#14257c" stroke-width="0.8" opacity="0.7"/>
<path d="M815.4,773.8 C780.6,773.8 761.2,778.8 738.0,778.8" fill="none" stroke="#7aa4f4" stroke-width="0.9" opacity="0.65"/>
<path d="M815.4,775.4 C780.6,775.4 761.2,780.4 738.0,780.4" fill="none" stroke="#14257c" stroke-width="0.8" opacity="0.7"/>
<path d="M827.2,773.8 C871.7,773.8 896.4,781.8 926.0,781.8 L960,793.0" fill="none" stroke="#7aa4f4" stroke-width="0.9" opacity="0.65"/>
<path d="M827.2,775.4 C871.7,775.4 896.4,783.4 926.0,783.4 L960,794.6" fill="none" stroke="#14257c" stroke-width="0.8" opacity="0.7"/>
<path d="M818.4,784.8 C782.2,784.8 762.1,790.6 738.0,790.6 L738.0,805.9 C762.1,805.9 782.2,795.0 818.4,795.0 Z" fill="url(#gblue)"/>
<path d="M824.2,784.8 C870.0,783.8 895.5,792.2 926.0,792.2 L960.0,804.8 L960,822.0 L926.0,808.5 C895.5,808.5 870.0,795.0 824.2,795.0 Z" fill="url(#gblue)"/>
<path d="M815.4,786.0 C780.6,786.0 761.2,793.4 738.0,793.4" fill="none" stroke="#7aa4f4" stroke-width="0.9" opacity="0.65"/>
<path d="M815.4,787.6 C780.6,787.6 761.2,795.0 738.0,795.0" fill="none" stroke="#14257c" stroke-width="0.8" opacity="0.7"/>
<path d="M827.2,786.0 C871.7,786.0 896.4,796.0 926.0,796.0 L960,808.0" fill="none" stroke="#7aa4f4" stroke-width="0.9" opacity="0.65"/>
<path d="M827.2,787.6 C871.7,787.6 896.4,797.6 926.0,797.6 L960,809.6" fill="none" stroke="#14257c" stroke-width="0.8" opacity="0.7"/>
<path d="M815.4,789.1 C780.6,789.1 761.2,796.5 738.0,796.5" fill="none" stroke="#7aa4f4" stroke-width="0.9" opacity="0.65"/>
<path d="M815.4,790.8 C780.6,790.8 761.2,798.1 738.0,798.1" fill="none" stroke="#14257c" stroke-width="0.8" opacity="0.7"/>
<path d="M827.2,789.1 C871.7,789.1 896.4,799.1 926.0,799.1 L960,811.1" fill="none" stroke="#7aa4f4" stroke-width="0.9" opacity="0.65"/>
<path d="M827.2,790.8 C871.7,790.8 896.4,800.8 926.0,800.8 L960,812.8" fill="none" stroke="#14257c" stroke-width="0.8" opacity="0.7"/>
<path d="M815.4,792.2 C780.6,792.2 761.2,799.6 738.0,799.6" fill="none" stroke="#7aa4f4" stroke-width="0.9" opacity="0.65"/>
<path d="M815.4,793.9 C780.6,793.9 761.2,801.2 738.0,801.2" fill="none" stroke="#14257c" stroke-width="0.8" opacity="0.7"/>
<path d="M827.2,792.2 C871.7,792.2 896.4,802.2 926.0,802.2 L960,814.2" fill="none" stroke="#7aa4f4" stroke-width="0.9" opacity="0.65"/>
<path d="M827.2,793.9 C871.7,793.9 896.4,803.9 926.0,803.9 L960,815.9" fill="none" stroke="#14257c" stroke-width="0.8" opacity="0.7"/>
<path d="M818.4,803.2 C782.2,803.2 762.1,811.1 738.0,811.1 L738.0,826.3 C762.1,826.3 782.2,813.4 818.4,813.4 Z" fill="url(#gblue)"/>
<path d="M824.2,803.2 C870.0,802.2 895.5,811.7 926.0,811.7 L960.0,825.0 L960,842.2 L926.0,827.9 C895.5,827.9 870.0,813.4 824.2,813.4 Z" fill="url(#gblue)"/>
<path d="M815.4,804.5 C780.6,804.5 761.2,813.9 738.0,813.9" fill="none" stroke="#7aa4f4" stroke-width="0.9" opacity="0.65"/>
<path d="M815.4,806.1 C780.6,806.1 761.2,815.5 738.0,815.5" fill="none" stroke="#14257c" stroke-width="0.8" opacity="0.7"/>
<path d="M827.2,804.5 C871.7,804.5 896.4,815.5 926.0,815.5 L960,828.3" fill="none" stroke="#7aa4f4" stroke-width="0.9" opacity="0.65"/>
<path d="M827.2,806.1 C871.7,806.1 896.4,817.1 926.0,817.1 L960,829.9" fill="none" stroke="#14257c" stroke-width="0.8" opacity="0.7"/>
<path d="M815.4,807.6 C780.6,807.6 761.2,817.0 738.0,817.0" fill="none" stroke="#7aa4f4" stroke-width="0.9" opacity="0.65"/>
<path d="M815.4,809.2 C780.6,809.2 761.2,818.6 738.0,818.6" fill="none" stroke="#14257c" stroke-width="0.8" opacity="0.7"/>
<path d="M827.2,807.6 C871.7,807.6 896.4,818.6 926.0,818.6 L960,831.4" fill="none" stroke="#7aa4f4" stroke-width="0.9" opacity="0.65"/>
<path d="M827.2,809.2 C871.7,809.2 896.4,820.2 926.0,820.2 L960,833.0" fill="none" stroke="#14257c" stroke-width="0.8" opacity="0.7"/>
<path d="M815.4,810.7 C780.6,810.7 761.2,820.1 738.0,820.1" fill="none" stroke="#7aa4f4" stroke-width="0.9" opacity="0.65"/>
<path d="M815.4,812.3 C780.6,812.3 761.2,821.7 738.0,821.7" fill="none" stroke="#14257c" stroke-width="0.8" opacity="0.7"/>
<path d="M827.2,810.7 C871.7,810.7 896.4,821.7 926.0,821.7 L960,834.5" fill="none" stroke="#7aa4f4" stroke-width="0.9" opacity="0.65"/>
<path d="M827.2,812.3 C871.7,812.3 896.4,823.3 926.0,823.3 L960,836.1" fill="none" stroke="#14257c" stroke-width="0.8" opacity="0.7"/>
<path d="M818.4,821.6 C782.2,821.6 762.1,830.6 738.0,830.6 L738.0,845.9 C762.1,845.9 782.2,831.9 818.4,831.9 Z" fill="url(#gblue)"/>
<path d="M824.2,821.6 C870.0,820.6 895.5,830.1 926.0,830.1 L960.0,844.2 L960,861.5 L926.0,846.4 C895.5,846.4 870.0,831.9 824.2,831.9 Z" fill="url(#gblue)"/>
<path d="M815.4,822.9 C780.6,822.9 761.2,833.4 738.0,833.4" fill="none" stroke="#7aa4f4" stroke-width="0.9" opacity="0.65"/>
<path d="M815.4,824.5 C780.6,824.5 761.2,835.0 738.0,835.0" fill="none" stroke="#14257c" stroke-width="0.8" opacity="0.7"/>
<path d="M827.2,822.9 C871.7,822.9 896.4,833.9 926.0,833.9 L960,847.5" fill="none" stroke="#7aa4f4" stroke-width="0.9" opacity="0.65"/>
<path d="M827.2,824.5 C871.7,824.5 896.4,835.5 926.0,835.5 L960,849.1" fill="none" stroke="#14257c" stroke-width="0.8" opacity="0.7"/>
<path d="M815.4,826.0 C780.6,826.0 761.2,836.5 738.0,836.5" fill="none" stroke="#7aa4f4" stroke-width="0.9" opacity="0.65"/>
<path d="M815.4,827.6 C780.6,827.6 761.2,838.1 738.0,838.1" fill="none" stroke="#14257c" stroke-width="0.8" opacity="0.7"/>
<path d="M827.2,826.0 C871.7,826.0 896.4,837.0 926.0,837.0 L960,850.6" fill="none" stroke="#7aa4f4" stroke-width="0.9" opacity="0.65"/>
<path d="M827.2,827.6 C871.7,827.6 896.4,838.6 926.0,838.6 L960,852.2" fill="none" stroke="#14257c" stroke-width="0.8" opacity="0.7"/>
<path d="M815.4,829.1 C780.6,829.1 761.2,839.6 738.0,839.6" fill="none" stroke="#7aa4f4" stroke-width="0.9" opacity="0.65"/>
<path d="M815.4,830.8 C780.6,830.8 761.2,841.2 738.0,841.2" fill="none" stroke="#14257c" stroke-width="0.8" opacity="0.7"/>
<path d="M827.2,829.1 C871.7,829.1 896.4,840.1 926.0,840.1 L960,853.8" fill="none" stroke="#7aa4f4" stroke-width="0.9" opacity="0.65"/>
<path d="M827.2,830.8 C871.7,830.8 896.4,841.8 926.0,841.8 L960,855.4" fill="none" stroke="#14257c" stroke-width="0.8" opacity="0.7"/>
<rect x="818.4" y="688" width="5.8" height="132" fill="#dcd6ba"/>
<rect x="819.4" y="694.0" width="3.8" height="5.5" fill="#f4f1e2"/>
<path d="M828.8,693.1 q-4.4,4.4 0,9.4" fill="none" stroke="#ece8d2" stroke-width="1.3"/>
<rect x="824.2" y="693.0" width="2.8" height="9.4" fill="#10122a" opacity="0.8"/>
<rect x="819.4" y="712.5" width="3.8" height="5.5" fill="#f4f1e2"/>
<path d="M828.8,711.6 q-4.4,4.4 0,9.4" fill="none" stroke="#ece8d2" stroke-width="1.3"/>
<rect x="824.2" y="711.5" width="2.8" height="9.4" fill="#10122a" opacity="0.8"/>
<rect x="819.4" y="730.9" width="3.8" height="5.5" fill="#f4f1e2"/>
<path d="M828.8,730.0 q-4.4,4.4 0,9.4" fill="none" stroke="#ece8d2" stroke-width="1.3"/>
<rect x="824.2" y="729.9" width="2.8" height="9.4" fill="#10122a" opacity="0.8"/>
<rect x="819.4" y="749.4" width="3.8" height="5.5" fill="#f4f1e2"/>
<path d="M828.8,748.5 q-4.4,4.4 0,9.4" fill="none" stroke="#ece8d2" stroke-width="1.3"/>
<rect x="824.2" y="748.4" width="2.8" height="9.4" fill="#10122a" opacity="0.8"/>
<rect x="819.4" y="767.8" width="3.8" height="5.5" fill="#f4f1e2"/>
<path d="M828.8,766.9 q-4.4,4.4 0,9.4" fill="none" stroke="#ece8d2" stroke-width="1.3"/>
<rect x="824.2" y="766.8" width="2.8" height="9.4" fill="#10122a" opacity="0.8"/>
<rect x="819.4" y="786.2" width="3.8" height="5.5" fill="#f4f1e2"/>
<path d="M828.8,785.4 q-4.4,4.4 0,9.4" fill="none" stroke="#ece8d2" stroke-width="1.3"/>
<rect x="824.2" y="785.2" width="2.8" height="9.4" fill="#10122a" opacity="0.8"/>
<rect x="819.4" y="804.7" width="3.8" height="5.5" fill="#f4f1e2"/>
<path d="M828.8,803.8 q-4.4,4.4 0,9.4" fill="none" stroke="#ece8d2" stroke-width="1.3"/>
<rect x="824.2" y="803.7" width="2.8" height="9.4" fill="#10122a" opacity="0.8"/>
<path d="M750,837.6 L758,829 L786,819.4 L838,817.6 L848,826 L840,836 Z" fill="#d4ceb4"/>
<rect x="765.0" y="829.6" width="3.8" height="3.6" rx="0.8" fill="#0c0c0c"/>
<rect x="770.5" y="829.5" width="3.8" height="3.6" rx="0.8" fill="#0c0c0c"/>
<rect x="776.0" y="829.4" width="3.8" height="3.6" rx="0.8" fill="#0c0c0c"/>
<rect x="781.5" y="829.3" width="3.8" height="3.6" rx="0.8" fill="#0c0c0c"/>
<rect x="787.0" y="829.2" width="3.8" height="3.6" rx="0.8" fill="#0c0c0c"/>
<rect x="792.5" y="829.1" width="3.8" height="3.6" rx="0.8" fill="#0c0c0c"/>
<rect x="798.0" y="829.0" width="3.8" height="3.6" rx="0.8" fill="#0c0c0c"/>
<rect x="803.5" y="828.9" width="3.8" height="3.6" rx="0.8" fill="#0c0c0c"/>
<rect x="809.0" y="828.8" width="3.8" height="3.6" rx="0.8" fill="#0c0c0c"/>
<rect x="814.5" y="828.7" width="3.8" height="3.6" rx="0.8" fill="#0c0c0c"/>
<rect x="820.0" y="828.6" width="3.8" height="3.6" rx="0.8" fill="#0c0c0c"/>
<rect x="825.5" y="828.5" width="3.8" height="3.6" rx="0.8" fill="#0c0c0c"/>
<rect x="831.0" y="828.4" width="3.8" height="3.6" rx="0.8" fill="#0c0c0c"/>
<rect x="790.0" y="822.0" width="3.8" height="3.6" rx="0.8" fill="#0c0c0c"/>
<rect x="795.5" y="821.9" width="3.8" height="3.6" rx="0.8" fill="#0c0c0c"/>
<rect x="801.0" y="821.8" width="3.8" height="3.6" rx="0.8" fill="#0c0c0c"/>
<rect x="806.5" y="821.7" width="3.8" height="3.6" rx="0.8" fill="#0c0c0c"/>
<rect x="812.0" y="821.6" width="3.8" height="3.6" rx="0.8" fill="#0c0c0c"/>
<rect x="817.5" y="821.5" width="3.8" height="3.6" rx="0.8" fill="#0c0c0c"/>
<rect x="823.0" y="821.4" width="3.8" height="3.6" rx="0.8" fill="#0c0c0c"/>
<rect x="828.5" y="821.3" width="3.8" height="3.6" rx="0.8" fill="#0c0c0c"/>
<rect x="834.0" y="821.2" width="3.8" height="3.6" rx="0.8" fill="#0c0c0c"/>
<rect x="738" y="837.4" width="222" height="2.6" fill="#0a0c16"/>
<path d="M742,688 L748.6,688 L752.6,730 L757,780 L761.4,826 L757,836 L752.6,828 L749,780 L745,730 Z" fill="#0a0a0c"/>
<path d="M923,688 L931.4,688 L930.4,720 L926.6,770 L921.6,810 L919,840 L911,840 L913.6,810 L918.4,770 L921.6,720 Z" fill="#0b0c10"/>
<path d="M944,677 h16 v12 h-16 Z" fill="#1c2f7c"/>
<path d="M941,690 q8,-3 11.6,-13" fill="none" stroke="#c9aa4c" stroke-width="1.3"/>
<path d="M934,731 q4,-10 14,-14" fill="none" stroke="#3f8a5c" stroke-width="1.1"/>
<path d="M933,752 q2,-12 6,-18" fill="none" stroke="#d6c860" stroke-width="1.6"/>
</g>
</g>
<!-- ============ TEXT ============ -->
<g font-family="'Liberation Sans', sans-serif" fill="#111">
<rect x="22" y="241" width="6" height="6.3" fill="#111"/>
<text id="t1" x="37.1" y="252.2" font-size="23" textLength="106.6" lengthAdjust="spacingAndGlyphs">Slim Cable</text>
<rect x="22" y="460.2" width="6" height="6.3" fill="#111"/>
<text id="t2" x="35.5" y="471.9" font-size="23" textLength="142" lengthAdjust="spacingAndGlyphs">Regular Cable</text>
<text id="t3" x="365.6" y="361.3" font-size="29.2" textLength="73" lengthAdjust="spacingAndGlyphs">4mm</text>
<text id="t4" x="555.4" y="444.9" font-size="29.2" textLength="96.5" lengthAdjust="spacingAndGlyphs">7.9mm</text>
</g>
<g fill="#000">
<rect x="48" y="884.2" width="198" height="34.6"/>
<rect x="291" y="884.2" width="150" height="34.6"/>
<rect x="518" y="884.2" width="150" height="34.6"/>
<rect x="754.2" y="884.2" width="197.8" height="34.6"/>
</g>
<g font-family="'Liberation Sans', sans-serif" fill="#fff" stroke="#fff" stroke-width="0.5" font-size="28.6">
<text id="l1" x="52" y="910" textLength="191" lengthAdjust="spacingAndGlyphs">Regular Cable</text>
<text id="l2" x="296" y="911.4" textLength="139.5" lengthAdjust="spacingAndGlyphs">Slim Cable</text>
<text id="l3" x="523" y="911.4" textLength="139.5" lengthAdjust="spacingAndGlyphs">Slim Cable</text>
<text id="l4" x="758.4" y="910" textLength="191" lengthAdjust="spacingAndGlyphs">Regular Cable</text>
</g>
</svg>

</body>
</html>
